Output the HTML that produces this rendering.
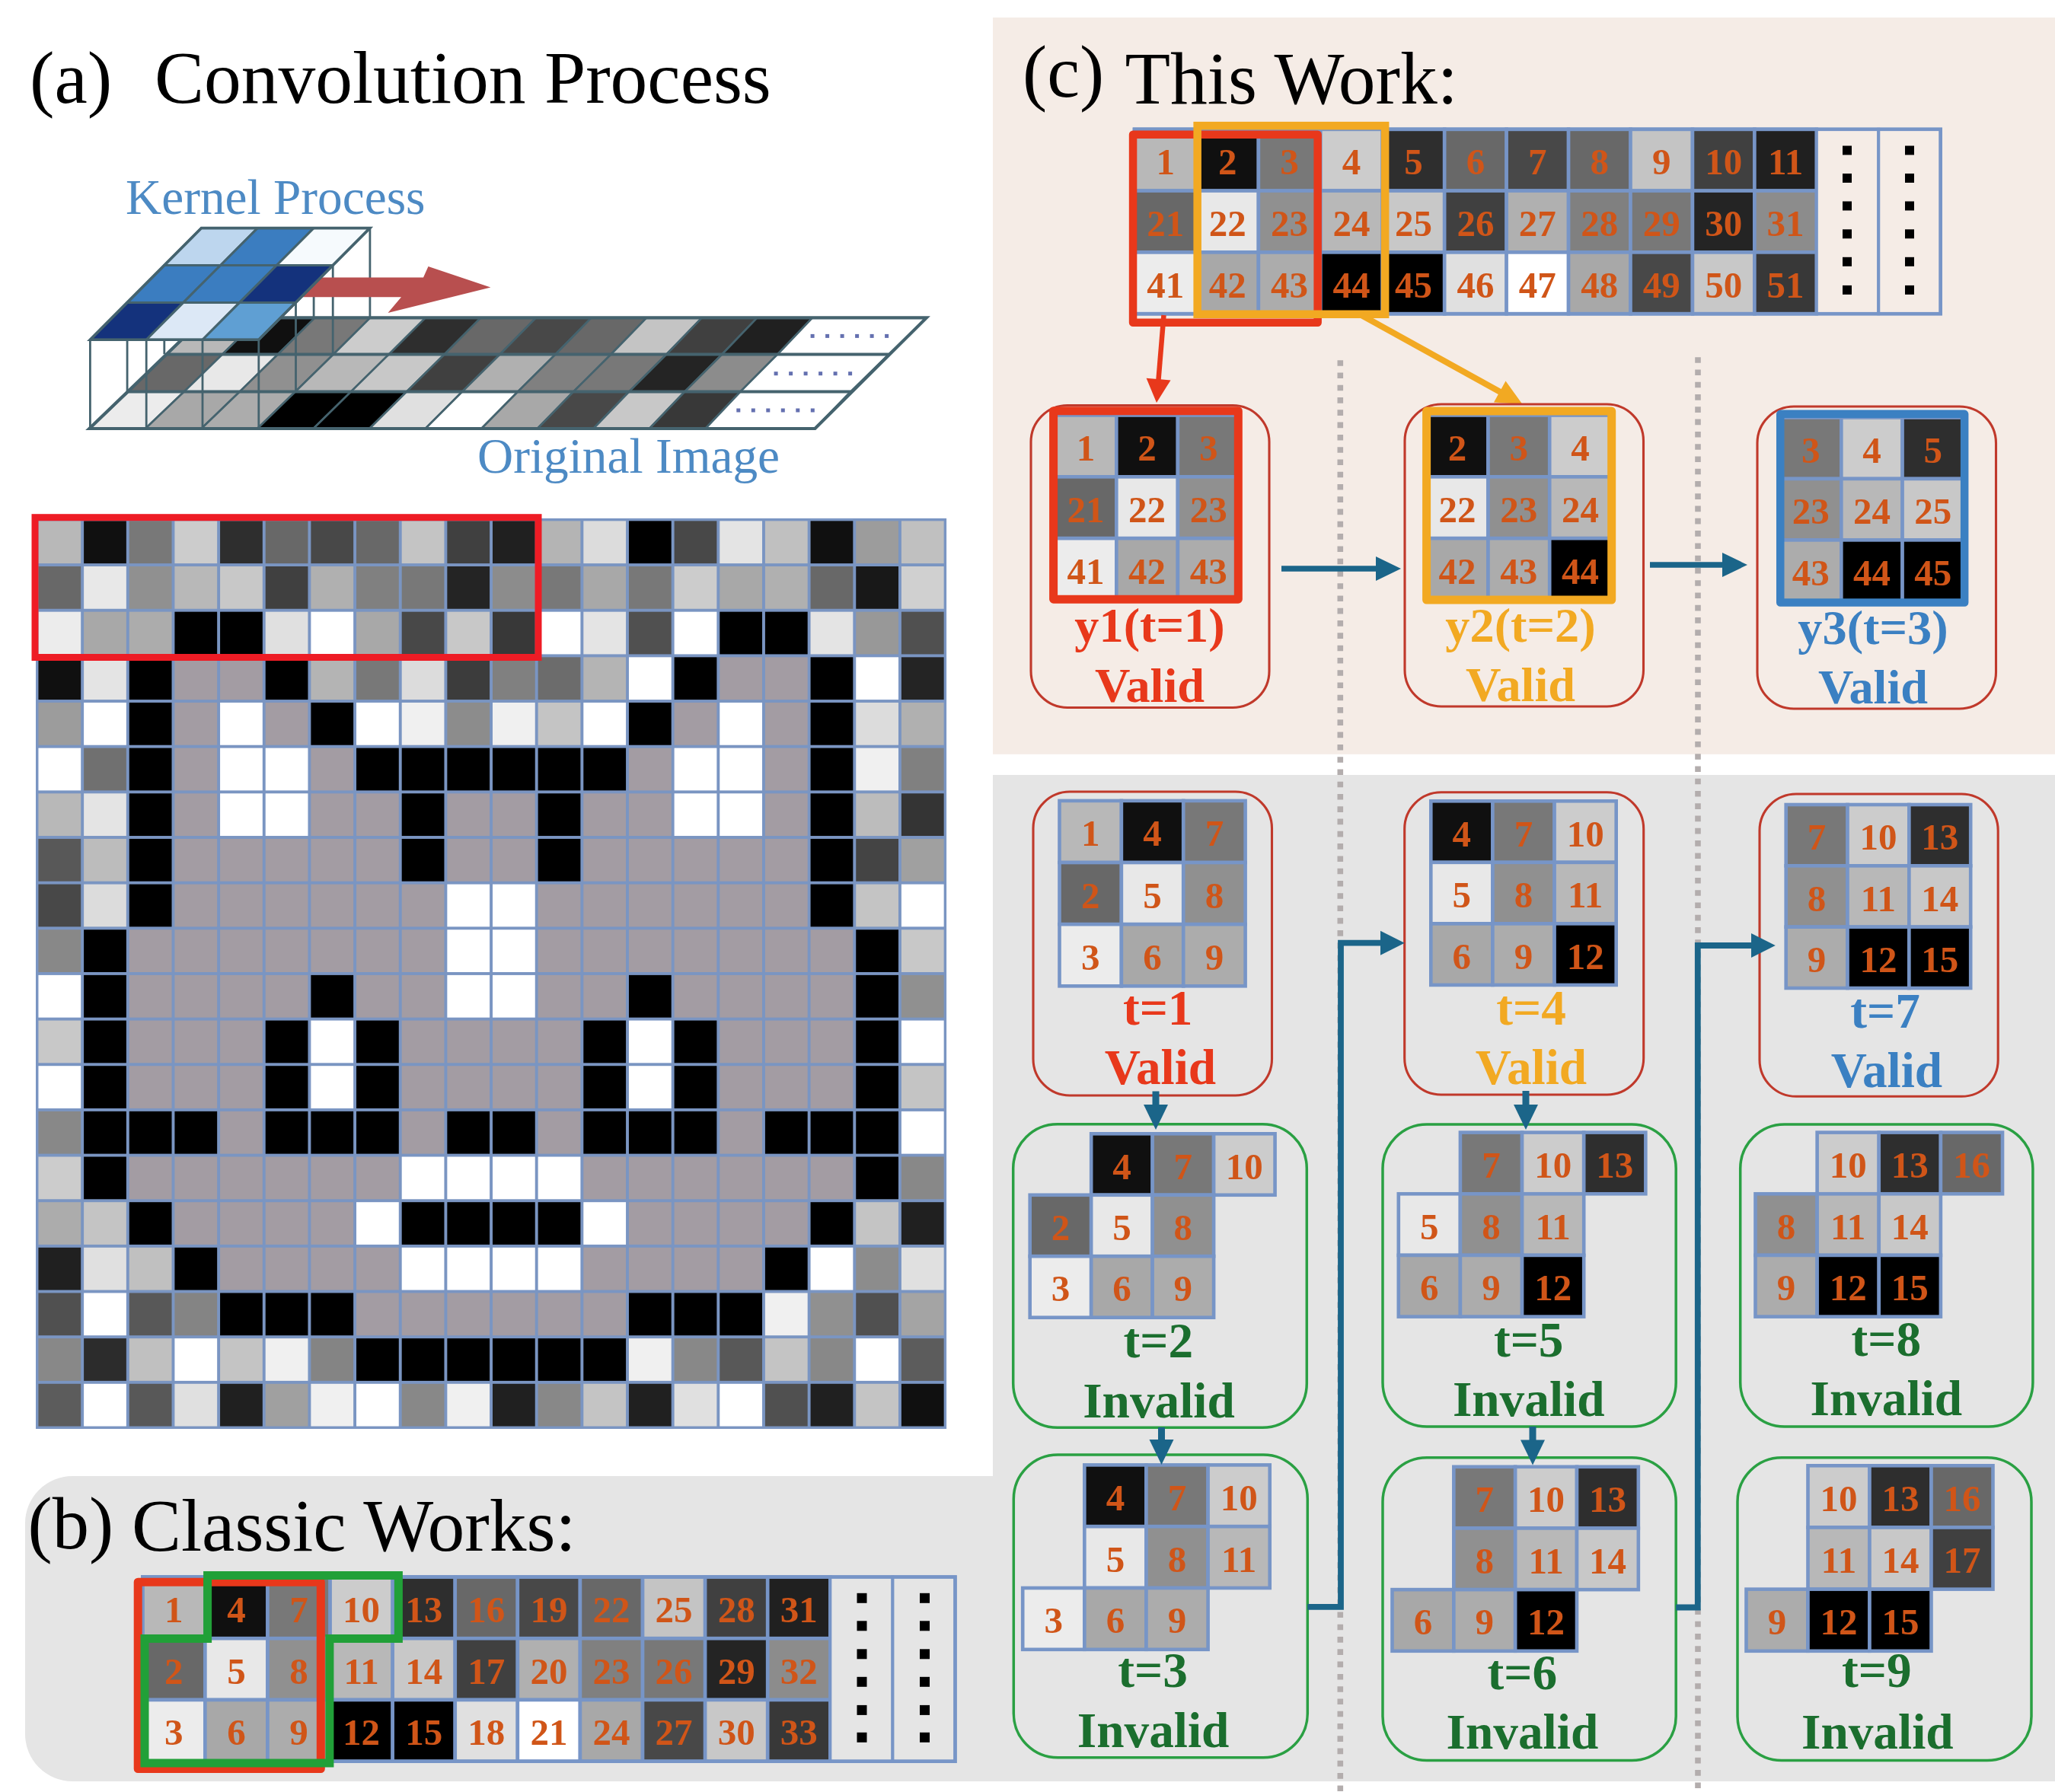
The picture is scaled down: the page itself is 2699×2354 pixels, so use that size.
<!DOCTYPE html>
<html lang="en">
<head>
<meta charset="utf-8">
<title>Convolution Process: Classic Works vs This Work</title>
<style>
html,body{margin:0;padding:0;background:#fff;}
body{width:2699px;height:2354px;overflow:hidden;}
svg{display:block;font-family:'Liberation Serif', 'Times New Roman', serif;}
</style>
</head>
<body>
<svg width="2699" height="2354" viewBox="0 0 2699 2354">
<rect x="0" y="0" width="2699" height="2354" fill="#ffffff"/>
<rect x="1304" y="23" width="1400" height="967.8" fill="#f5ece6"/>
<path d="M1304 1018 H2704 V2340 H95 A62 62 0 0 1 33 2278 V2001 A62 62 0 0 1 95 1939 H1304 Z" fill="#e5e5e5"/>
<text x="39" y="135.2" font-size="97.5" fill="#000" xml:space="preserve">(a)  <tspan x="203" y="135.2">Convolution Process</tspan></text>
<text x="1343" y="127" font-size="96.5" fill="#000">(c) <tspan x="1477.5" y="136.2" font-size="97.5">This Work:</tspan></text>
<text x="36.5" y="2033.5" font-size="96.5" fill="#000">(b) <tspan x="173" y="2036.6" font-size="97.5">Classic Works:</tspan></text>
<text x="165" y="280.5" font-size="65.3" fill="#4d8ac4" font-weight="normal" text-anchor="start">Kernel Process</text>
<text x="627" y="621" font-size="65.3" fill="#4d8ac4" font-weight="normal" text-anchor="start">Original Image</text>
<polygon points="117.4,563 190.95,563 241.76,514.5 168.7,514.5" fill="#ececec" stroke="#45636e" stroke-width="2.6" stroke-linejoin="round"/>
<polygon points="190.95,563 264.51,563 314.83,514.5 241.76,514.5" fill="#a8a8a8" stroke="#45636e" stroke-width="2.6" stroke-linejoin="round"/>
<polygon points="264.51,563 338.06,563 387.89,514.5 314.83,514.5" fill="#acacac" stroke="#45636e" stroke-width="2.6" stroke-linejoin="round"/>
<polygon points="338.06,563 411.62,563 460.95,514.5 387.89,514.5" fill="#000000" stroke="#45636e" stroke-width="2.6" stroke-linejoin="round"/>
<polygon points="411.62,563 485.17,563 534.02,514.5 460.95,514.5" fill="#000000" stroke="#45636e" stroke-width="2.6" stroke-linejoin="round"/>
<polygon points="485.17,563 558.73,563 607.08,514.5 534.02,514.5" fill="#e0e0e0" stroke="#45636e" stroke-width="2.6" stroke-linejoin="round"/>
<polygon points="558.73,563 632.28,563 680.15,514.5 607.08,514.5" fill="#ffffff" stroke="#45636e" stroke-width="2.6" stroke-linejoin="round"/>
<polygon points="632.28,563 705.84,563 753.21,514.5 680.15,514.5" fill="#a8a8a8" stroke="#45636e" stroke-width="2.6" stroke-linejoin="round"/>
<polygon points="705.84,563 779.39,563 826.27,514.5 753.21,514.5" fill="#484848" stroke="#45636e" stroke-width="2.6" stroke-linejoin="round"/>
<polygon points="779.39,563 852.95,563 899.34,514.5 826.27,514.5" fill="#c8c8c8" stroke="#45636e" stroke-width="2.6" stroke-linejoin="round"/>
<polygon points="852.95,563 926.5,563 972.4,514.5 899.34,514.5" fill="#383838" stroke="#45636e" stroke-width="2.6" stroke-linejoin="round"/>
<polygon points="926.5,563 1070.4,563 1117.1,514.5 972.4,514.5" fill="#ffffff" stroke="#45636e" stroke-width="2.6"/>
<polygon points="168.7,514.5 241.76,514.5 292.02,465.5 219.1,465.5" fill="#686868" stroke="#45636e" stroke-width="2.6" stroke-linejoin="round"/>
<polygon points="241.76,514.5 314.83,514.5 364.94,465.5 292.02,465.5" fill="#e8e8e8" stroke="#45636e" stroke-width="2.6" stroke-linejoin="round"/>
<polygon points="314.83,514.5 387.89,514.5 437.85,465.5 364.94,465.5" fill="#909090" stroke="#45636e" stroke-width="2.6" stroke-linejoin="round"/>
<polygon points="387.89,514.5 460.95,514.5 510.77,465.5 437.85,465.5" fill="#b8b8b8" stroke="#45636e" stroke-width="2.6" stroke-linejoin="round"/>
<polygon points="460.95,514.5 534.02,514.5 583.69,465.5 510.77,465.5" fill="#c8c8c8" stroke="#45636e" stroke-width="2.6" stroke-linejoin="round"/>
<polygon points="534.02,514.5 607.08,514.5 656.61,465.5 583.69,465.5" fill="#404040" stroke="#45636e" stroke-width="2.6" stroke-linejoin="round"/>
<polygon points="607.08,514.5 680.15,514.5 729.53,465.5 656.61,465.5" fill="#b0b0b0" stroke="#45636e" stroke-width="2.6" stroke-linejoin="round"/>
<polygon points="680.15,514.5 753.21,514.5 802.45,465.5 729.53,465.5" fill="#808080" stroke="#45636e" stroke-width="2.6" stroke-linejoin="round"/>
<polygon points="753.21,514.5 826.27,514.5 875.36,465.5 802.45,465.5" fill="#787878" stroke="#45636e" stroke-width="2.6" stroke-linejoin="round"/>
<polygon points="826.27,514.5 899.34,514.5 948.28,465.5 875.36,465.5" fill="#242424" stroke="#45636e" stroke-width="2.6" stroke-linejoin="round"/>
<polygon points="899.34,514.5 972.4,514.5 1021.2,465.5 948.28,465.5" fill="#8c8c8c" stroke="#45636e" stroke-width="2.6" stroke-linejoin="round"/>
<polygon points="972.4,514.5 1117.1,514.5 1167.2,465.5 1021.2,465.5" fill="#ffffff" stroke="#45636e" stroke-width="2.6"/>
<polygon points="219.1,465.5 292.02,465.5 341.1,417.4 268.5,417.4" fill="#b8b8b8" stroke="#45636e" stroke-width="2.6" stroke-linejoin="round"/>
<polygon points="292.02,465.5 364.94,465.5 413.7,417.4 341.1,417.4" fill="#101010" stroke="#45636e" stroke-width="2.6" stroke-linejoin="round"/>
<polygon points="364.94,465.5 437.85,465.5 486.3,417.4 413.7,417.4" fill="#787878" stroke="#45636e" stroke-width="2.6" stroke-linejoin="round"/>
<polygon points="437.85,465.5 510.77,465.5 558.9,417.4 486.3,417.4" fill="#cccccc" stroke="#45636e" stroke-width="2.6" stroke-linejoin="round"/>
<polygon points="510.77,465.5 583.69,465.5 631.5,417.4 558.9,417.4" fill="#2e2e2e" stroke="#45636e" stroke-width="2.6" stroke-linejoin="round"/>
<polygon points="583.69,465.5 656.61,465.5 704.1,417.4 631.5,417.4" fill="#686868" stroke="#45636e" stroke-width="2.6" stroke-linejoin="round"/>
<polygon points="656.61,465.5 729.53,465.5 776.7,417.4 704.1,417.4" fill="#484848" stroke="#45636e" stroke-width="2.6" stroke-linejoin="round"/>
<polygon points="729.53,465.5 802.45,465.5 849.3,417.4 776.7,417.4" fill="#686868" stroke="#45636e" stroke-width="2.6" stroke-linejoin="round"/>
<polygon points="802.45,465.5 875.36,465.5 921.9,417.4 849.3,417.4" fill="#c4c4c4" stroke="#45636e" stroke-width="2.6" stroke-linejoin="round"/>
<polygon points="875.36,465.5 948.28,465.5 994.5,417.4 921.9,417.4" fill="#404040" stroke="#45636e" stroke-width="2.6" stroke-linejoin="round"/>
<polygon points="948.28,465.5 1021.2,465.5 1067.1,417.4 994.5,417.4" fill="#202020" stroke="#45636e" stroke-width="2.6" stroke-linejoin="round"/>
<polygon points="1021.2,465.5 1167.2,465.5 1216.8,417.4 1067.1,417.4" fill="#ffffff" stroke="#45636e" stroke-width="2.6"/>
<polygon points="117.4,563 1070.4,563 1216.8,417.4 268.5,417.4" fill="none" stroke="#45636e" stroke-width="4.2" stroke-linejoin="miter"/>
<line x1="168.7" y1="514.5" x2="1117.1" y2="514.5" stroke="#45636e" stroke-width="4"/>
<line x1="219.1" y1="465.5" x2="1167.2" y2="465.5" stroke="#45636e" stroke-width="4"/>
<rect x="1064.6" y="438.9" width="5" height="5" fill="#6470b0"/>
<rect x="1084.1" y="438.9" width="5" height="5" fill="#6470b0"/>
<rect x="1103.6" y="438.9" width="5" height="5" fill="#6470b0"/>
<rect x="1123.1" y="438.9" width="5" height="5" fill="#6470b0"/>
<rect x="1142.6" y="438.9" width="5" height="5" fill="#6470b0"/>
<rect x="1162.1" y="438.9" width="5" height="5" fill="#6470b0"/>
<rect x="1016.6" y="488.2" width="5" height="5" fill="#6470b0"/>
<rect x="1036.1" y="488.2" width="5" height="5" fill="#6470b0"/>
<rect x="1055.6" y="488.2" width="5" height="5" fill="#6470b0"/>
<rect x="1075.1" y="488.2" width="5" height="5" fill="#6470b0"/>
<rect x="1094.6" y="488.2" width="5" height="5" fill="#6470b0"/>
<rect x="1114.1" y="488.2" width="5" height="5" fill="#6470b0"/>
<rect x="967.3" y="536.5" width="5" height="5" fill="#6470b0"/>
<rect x="986.8" y="536.5" width="5" height="5" fill="#6470b0"/>
<rect x="1006.3" y="536.5" width="5" height="5" fill="#6470b0"/>
<rect x="1025.8" y="536.5" width="5" height="5" fill="#6470b0"/>
<rect x="1045.3" y="536.5" width="5" height="5" fill="#6470b0"/>
<rect x="1064.8" y="536.5" width="5" height="5" fill="#6470b0"/>
<line x1="118.4" y1="446.3" x2="118.4" y2="563" stroke="#45636e" stroke-width="2.8"/>
<line x1="192.2" y1="446.3" x2="192.2" y2="563" stroke="#45636e" stroke-width="2.8"/>
<line x1="266" y1="446.3" x2="266" y2="563" stroke="#45636e" stroke-width="2.8"/>
<line x1="339.8" y1="446.3" x2="339.8" y2="563" stroke="#45636e" stroke-width="2.8"/>
<line x1="167.1" y1="397.4" x2="167.1" y2="514.1" stroke="#45636e" stroke-width="2.8"/>
<line x1="388.5" y1="397.4" x2="388.5" y2="514.1" stroke="#45636e" stroke-width="2.8"/>
<line x1="215.8" y1="348.5" x2="215.8" y2="465.2" stroke="#45636e" stroke-width="2.8"/>
<line x1="437.2" y1="348.5" x2="437.2" y2="465.2" stroke="#45636e" stroke-width="2.8"/>
<line x1="264.5" y1="299.6" x2="264.5" y2="416.3" stroke="#45636e" stroke-width="2.8"/>
<line x1="338.3" y1="299.6" x2="338.3" y2="416.3" stroke="#45636e" stroke-width="2.8"/>
<line x1="412.1" y1="299.6" x2="412.1" y2="416.3" stroke="#45636e" stroke-width="2.8"/>
<line x1="485.9" y1="299.6" x2="485.9" y2="416.3" stroke="#45636e" stroke-width="2.8"/>
<polygon points="418,364.5 556,364.5 562.5,350 644.4,377.4 509.5,411 527,390.2 397,390.2" fill="#b84f4f"/>
<polygon points="118.4,446.3 192.2,446.3 240.9,397.4 167.1,397.4" fill="#14327c" stroke="#45636e" stroke-width="3" stroke-linejoin="round"/>
<polygon points="192.2,446.3 266,446.3 314.7,397.4 240.9,397.4" fill="#dce8f6" stroke="#45636e" stroke-width="3" stroke-linejoin="round"/>
<polygon points="266,446.3 339.8,446.3 388.5,397.4 314.7,397.4" fill="#5f9fd3" stroke="#45636e" stroke-width="3" stroke-linejoin="round"/>
<polygon points="167.1,397.4 240.9,397.4 289.6,348.5 215.8,348.5" fill="#3b7dc0" stroke="#45636e" stroke-width="3" stroke-linejoin="round"/>
<polygon points="240.9,397.4 314.7,397.4 363.4,348.5 289.6,348.5" fill="#3b7dc0" stroke="#45636e" stroke-width="3" stroke-linejoin="round"/>
<polygon points="314.7,397.4 388.5,397.4 437.2,348.5 363.4,348.5" fill="#14327c" stroke="#45636e" stroke-width="3" stroke-linejoin="round"/>
<polygon points="215.8,348.5 289.6,348.5 338.3,299.6 264.5,299.6" fill="#bdd6ee" stroke="#45636e" stroke-width="3" stroke-linejoin="round"/>
<polygon points="289.6,348.5 363.4,348.5 412.1,299.6 338.3,299.6" fill="#3b7dc0" stroke="#45636e" stroke-width="3" stroke-linejoin="round"/>
<polygon points="363.4,348.5 437.2,348.5 485.9,299.6 412.1,299.6" fill="#f6fafd" stroke="#45636e" stroke-width="3" stroke-linejoin="round"/>
<polygon points="118.4,446.3 339.8,446.3 485.9,299.6 264.5,299.6" fill="none" stroke="#45636e" stroke-width="3.6"/>
<rect x="48.5" y="682.4" width="1193.1" height="1193.1" fill="#7a95c2"/>
<rect x="50.45" y="684.35" width="55.75" height="55.75" fill="#b8b8b8"/>
<rect x="110.11" y="684.35" width="55.75" height="55.75" fill="#101010"/>
<rect x="169.76" y="684.35" width="55.75" height="55.75" fill="#787878"/>
<rect x="229.41" y="684.35" width="55.75" height="55.75" fill="#cccccc"/>
<rect x="289.07" y="684.35" width="55.75" height="55.75" fill="#2e2e2e"/>
<rect x="348.72" y="684.35" width="55.75" height="55.75" fill="#686868"/>
<rect x="408.38" y="684.35" width="55.75" height="55.75" fill="#484848"/>
<rect x="468.03" y="684.35" width="55.75" height="55.75" fill="#686868"/>
<rect x="527.69" y="684.35" width="55.75" height="55.75" fill="#c4c4c4"/>
<rect x="587.35" y="684.35" width="55.75" height="55.75" fill="#404040"/>
<rect x="647" y="684.35" width="55.75" height="55.75" fill="#202020"/>
<rect x="706.65" y="684.35" width="55.75" height="55.75" fill="#b4b4b4"/>
<rect x="766.31" y="684.35" width="55.75" height="55.75" fill="#dcdcdc"/>
<rect x="825.96" y="684.35" width="55.75" height="55.75" fill="#000000"/>
<rect x="885.62" y="684.35" width="55.75" height="55.75" fill="#484848"/>
<rect x="945.27" y="684.35" width="55.75" height="55.75" fill="#e4e4e4"/>
<rect x="1004.93" y="684.35" width="55.75" height="55.75" fill="#c0c0c0"/>
<rect x="1064.58" y="684.35" width="55.75" height="55.75" fill="#101010"/>
<rect x="1124.24" y="684.35" width="55.75" height="55.75" fill="#9c9c9c"/>
<rect x="1183.89" y="684.35" width="55.75" height="55.75" fill="#c0c0c0"/>
<rect x="50.45" y="744" width="55.75" height="55.75" fill="#686868"/>
<rect x="110.11" y="744" width="55.75" height="55.75" fill="#e8e8e8"/>
<rect x="169.76" y="744" width="55.75" height="55.75" fill="#909090"/>
<rect x="229.41" y="744" width="55.75" height="55.75" fill="#b8b8b8"/>
<rect x="289.07" y="744" width="55.75" height="55.75" fill="#c8c8c8"/>
<rect x="348.72" y="744" width="55.75" height="55.75" fill="#404040"/>
<rect x="408.38" y="744" width="55.75" height="55.75" fill="#b0b0b0"/>
<rect x="468.03" y="744" width="55.75" height="55.75" fill="#808080"/>
<rect x="527.69" y="744" width="55.75" height="55.75" fill="#787878"/>
<rect x="587.35" y="744" width="55.75" height="55.75" fill="#242424"/>
<rect x="647" y="744" width="55.75" height="55.75" fill="#8c8c8c"/>
<rect x="706.65" y="744" width="55.75" height="55.75" fill="#787878"/>
<rect x="766.31" y="744" width="55.75" height="55.75" fill="#a8a8a8"/>
<rect x="825.96" y="744" width="55.75" height="55.75" fill="#787878"/>
<rect x="885.62" y="744" width="55.75" height="55.75" fill="#cccccc"/>
<rect x="945.27" y="744" width="55.75" height="55.75" fill="#a8a8a8"/>
<rect x="1004.93" y="744" width="55.75" height="55.75" fill="#b0b0b0"/>
<rect x="1064.58" y="744" width="55.75" height="55.75" fill="#686868"/>
<rect x="1124.24" y="744" width="55.75" height="55.75" fill="#181818"/>
<rect x="1183.89" y="744" width="55.75" height="55.75" fill="#d0d0d0"/>
<rect x="50.45" y="803.66" width="55.75" height="55.75" fill="#ececec"/>
<rect x="110.11" y="803.66" width="55.75" height="55.75" fill="#a8a8a8"/>
<rect x="169.76" y="803.66" width="55.75" height="55.75" fill="#acacac"/>
<rect x="229.41" y="803.66" width="55.75" height="55.75" fill="#000000"/>
<rect x="289.07" y="803.66" width="55.75" height="55.75" fill="#000000"/>
<rect x="348.72" y="803.66" width="55.75" height="55.75" fill="#e0e0e0"/>
<rect x="408.38" y="803.66" width="55.75" height="55.75" fill="#ffffff"/>
<rect x="468.03" y="803.66" width="55.75" height="55.75" fill="#a8a8a8"/>
<rect x="527.69" y="803.66" width="55.75" height="55.75" fill="#484848"/>
<rect x="587.35" y="803.66" width="55.75" height="55.75" fill="#c8c8c8"/>
<rect x="647" y="803.66" width="55.75" height="55.75" fill="#383838"/>
<rect x="706.65" y="803.66" width="55.75" height="55.75" fill="#ffffff"/>
<rect x="766.31" y="803.66" width="55.75" height="55.75" fill="#e4e4e4"/>
<rect x="825.96" y="803.66" width="55.75" height="55.75" fill="#505050"/>
<rect x="885.62" y="803.66" width="55.75" height="55.75" fill="#ffffff"/>
<rect x="945.27" y="803.66" width="55.75" height="55.75" fill="#000000"/>
<rect x="1004.93" y="803.66" width="55.75" height="55.75" fill="#000000"/>
<rect x="1064.58" y="803.66" width="55.75" height="55.75" fill="#e4e4e4"/>
<rect x="1124.24" y="803.66" width="55.75" height="55.75" fill="#989898"/>
<rect x="1183.89" y="803.66" width="55.75" height="55.75" fill="#505050"/>
<rect x="50.45" y="863.32" width="55.75" height="55.75" fill="#101010"/>
<rect x="110.11" y="863.32" width="55.75" height="55.75" fill="#e4e4e4"/>
<rect x="169.76" y="863.32" width="55.75" height="55.75" fill="#000000"/>
<rect x="229.41" y="863.32" width="55.75" height="55.75" fill="#a39ca3"/>
<rect x="289.07" y="863.32" width="55.75" height="55.75" fill="#a39ca3"/>
<rect x="348.72" y="863.32" width="55.75" height="55.75" fill="#000000"/>
<rect x="408.38" y="863.32" width="55.75" height="55.75" fill="#b4b4b4"/>
<rect x="468.03" y="863.32" width="55.75" height="55.75" fill="#787878"/>
<rect x="527.69" y="863.32" width="55.75" height="55.75" fill="#dcdcdc"/>
<rect x="587.35" y="863.32" width="55.75" height="55.75" fill="#3c3c3c"/>
<rect x="647" y="863.32" width="55.75" height="55.75" fill="#808080"/>
<rect x="706.65" y="863.32" width="55.75" height="55.75" fill="#6c6c6c"/>
<rect x="766.31" y="863.32" width="55.75" height="55.75" fill="#b4b4b4"/>
<rect x="825.96" y="863.32" width="55.75" height="55.75" fill="#ffffff"/>
<rect x="885.62" y="863.32" width="55.75" height="55.75" fill="#000000"/>
<rect x="945.27" y="863.32" width="55.75" height="55.75" fill="#a39ca3"/>
<rect x="1004.93" y="863.32" width="55.75" height="55.75" fill="#a39ca3"/>
<rect x="1064.58" y="863.32" width="55.75" height="55.75" fill="#000000"/>
<rect x="1124.24" y="863.32" width="55.75" height="55.75" fill="#ffffff"/>
<rect x="1183.89" y="863.32" width="55.75" height="55.75" fill="#242424"/>
<rect x="50.45" y="922.97" width="55.75" height="55.75" fill="#9c9c9c"/>
<rect x="110.11" y="922.97" width="55.75" height="55.75" fill="#ffffff"/>
<rect x="169.76" y="922.97" width="55.75" height="55.75" fill="#000000"/>
<rect x="229.41" y="922.97" width="55.75" height="55.75" fill="#a39ca3"/>
<rect x="289.07" y="922.97" width="55.75" height="55.75" fill="#ffffff"/>
<rect x="348.72" y="922.97" width="55.75" height="55.75" fill="#a39ca3"/>
<rect x="408.38" y="922.97" width="55.75" height="55.75" fill="#000000"/>
<rect x="468.03" y="922.97" width="55.75" height="55.75" fill="#ffffff"/>
<rect x="527.69" y="922.97" width="55.75" height="55.75" fill="#f0f0f0"/>
<rect x="587.35" y="922.97" width="55.75" height="55.75" fill="#8c8c8c"/>
<rect x="647" y="922.97" width="55.75" height="55.75" fill="#f0f0f0"/>
<rect x="706.65" y="922.97" width="55.75" height="55.75" fill="#c4c4c4"/>
<rect x="766.31" y="922.97" width="55.75" height="55.75" fill="#ffffff"/>
<rect x="825.96" y="922.97" width="55.75" height="55.75" fill="#000000"/>
<rect x="885.62" y="922.97" width="55.75" height="55.75" fill="#a39ca3"/>
<rect x="945.27" y="922.97" width="55.75" height="55.75" fill="#ffffff"/>
<rect x="1004.93" y="922.97" width="55.75" height="55.75" fill="#a39ca3"/>
<rect x="1064.58" y="922.97" width="55.75" height="55.75" fill="#000000"/>
<rect x="1124.24" y="922.97" width="55.75" height="55.75" fill="#dcdcdc"/>
<rect x="1183.89" y="922.97" width="55.75" height="55.75" fill="#b0b0b0"/>
<rect x="50.45" y="982.62" width="55.75" height="55.75" fill="#ffffff"/>
<rect x="110.11" y="982.62" width="55.75" height="55.75" fill="#707070"/>
<rect x="169.76" y="982.62" width="55.75" height="55.75" fill="#000000"/>
<rect x="229.41" y="982.62" width="55.75" height="55.75" fill="#a39ca3"/>
<rect x="289.07" y="982.62" width="55.75" height="55.75" fill="#ffffff"/>
<rect x="348.72" y="982.62" width="55.75" height="55.75" fill="#ffffff"/>
<rect x="408.38" y="982.62" width="55.75" height="55.75" fill="#a39ca3"/>
<rect x="468.03" y="982.62" width="55.75" height="55.75" fill="#000000"/>
<rect x="527.69" y="982.62" width="55.75" height="55.75" fill="#000000"/>
<rect x="587.35" y="982.62" width="55.75" height="55.75" fill="#000000"/>
<rect x="647" y="982.62" width="55.75" height="55.75" fill="#000000"/>
<rect x="706.65" y="982.62" width="55.75" height="55.75" fill="#000000"/>
<rect x="766.31" y="982.62" width="55.75" height="55.75" fill="#000000"/>
<rect x="825.96" y="982.62" width="55.75" height="55.75" fill="#a39ca3"/>
<rect x="885.62" y="982.62" width="55.75" height="55.75" fill="#ffffff"/>
<rect x="945.27" y="982.62" width="55.75" height="55.75" fill="#ffffff"/>
<rect x="1004.93" y="982.62" width="55.75" height="55.75" fill="#a39ca3"/>
<rect x="1064.58" y="982.62" width="55.75" height="55.75" fill="#000000"/>
<rect x="1124.24" y="982.62" width="55.75" height="55.75" fill="#f0f0f0"/>
<rect x="1183.89" y="982.62" width="55.75" height="55.75" fill="#808080"/>
<rect x="50.45" y="1042.28" width="55.75" height="55.75" fill="#b8b8b8"/>
<rect x="110.11" y="1042.28" width="55.75" height="55.75" fill="#e4e4e4"/>
<rect x="169.76" y="1042.28" width="55.75" height="55.75" fill="#000000"/>
<rect x="229.41" y="1042.28" width="55.75" height="55.75" fill="#a39ca3"/>
<rect x="289.07" y="1042.28" width="55.75" height="55.75" fill="#ffffff"/>
<rect x="348.72" y="1042.28" width="55.75" height="55.75" fill="#ffffff"/>
<rect x="408.38" y="1042.28" width="55.75" height="55.75" fill="#a39ca3"/>
<rect x="468.03" y="1042.28" width="55.75" height="55.75" fill="#a39ca3"/>
<rect x="527.69" y="1042.28" width="55.75" height="55.75" fill="#000000"/>
<rect x="587.35" y="1042.28" width="55.75" height="55.75" fill="#a39ca3"/>
<rect x="647" y="1042.28" width="55.75" height="55.75" fill="#a39ca3"/>
<rect x="706.65" y="1042.28" width="55.75" height="55.75" fill="#000000"/>
<rect x="766.31" y="1042.28" width="55.75" height="55.75" fill="#a39ca3"/>
<rect x="825.96" y="1042.28" width="55.75" height="55.75" fill="#a39ca3"/>
<rect x="885.62" y="1042.28" width="55.75" height="55.75" fill="#ffffff"/>
<rect x="945.27" y="1042.28" width="55.75" height="55.75" fill="#ffffff"/>
<rect x="1004.93" y="1042.28" width="55.75" height="55.75" fill="#a39ca3"/>
<rect x="1064.58" y="1042.28" width="55.75" height="55.75" fill="#000000"/>
<rect x="1124.24" y="1042.28" width="55.75" height="55.75" fill="#bcbcbc"/>
<rect x="1183.89" y="1042.28" width="55.75" height="55.75" fill="#343434"/>
<rect x="50.45" y="1101.93" width="55.75" height="55.75" fill="#585858"/>
<rect x="110.11" y="1101.93" width="55.75" height="55.75" fill="#bcbcbc"/>
<rect x="169.76" y="1101.93" width="55.75" height="55.75" fill="#000000"/>
<rect x="229.41" y="1101.93" width="55.75" height="55.75" fill="#a39ca3"/>
<rect x="289.07" y="1101.93" width="55.75" height="55.75" fill="#a39ca3"/>
<rect x="348.72" y="1101.93" width="55.75" height="55.75" fill="#a39ca3"/>
<rect x="408.38" y="1101.93" width="55.75" height="55.75" fill="#a39ca3"/>
<rect x="468.03" y="1101.93" width="55.75" height="55.75" fill="#a39ca3"/>
<rect x="527.69" y="1101.93" width="55.75" height="55.75" fill="#000000"/>
<rect x="587.35" y="1101.93" width="55.75" height="55.75" fill="#a39ca3"/>
<rect x="647" y="1101.93" width="55.75" height="55.75" fill="#a39ca3"/>
<rect x="706.65" y="1101.93" width="55.75" height="55.75" fill="#000000"/>
<rect x="766.31" y="1101.93" width="55.75" height="55.75" fill="#a39ca3"/>
<rect x="825.96" y="1101.93" width="55.75" height="55.75" fill="#a39ca3"/>
<rect x="885.62" y="1101.93" width="55.75" height="55.75" fill="#a39ca3"/>
<rect x="945.27" y="1101.93" width="55.75" height="55.75" fill="#a39ca3"/>
<rect x="1004.93" y="1101.93" width="55.75" height="55.75" fill="#a39ca3"/>
<rect x="1064.58" y="1101.93" width="55.75" height="55.75" fill="#000000"/>
<rect x="1124.24" y="1101.93" width="55.75" height="55.75" fill="#444444"/>
<rect x="1183.89" y="1101.93" width="55.75" height="55.75" fill="#a0a0a0"/>
<rect x="50.45" y="1161.59" width="55.75" height="55.75" fill="#484848"/>
<rect x="110.11" y="1161.59" width="55.75" height="55.75" fill="#dcdcdc"/>
<rect x="169.76" y="1161.59" width="55.75" height="55.75" fill="#000000"/>
<rect x="229.41" y="1161.59" width="55.75" height="55.75" fill="#a39ca3"/>
<rect x="289.07" y="1161.59" width="55.75" height="55.75" fill="#a39ca3"/>
<rect x="348.72" y="1161.59" width="55.75" height="55.75" fill="#a39ca3"/>
<rect x="408.38" y="1161.59" width="55.75" height="55.75" fill="#a39ca3"/>
<rect x="468.03" y="1161.59" width="55.75" height="55.75" fill="#a39ca3"/>
<rect x="527.69" y="1161.59" width="55.75" height="55.75" fill="#a39ca3"/>
<rect x="587.35" y="1161.59" width="55.75" height="55.75" fill="#ffffff"/>
<rect x="647" y="1161.59" width="55.75" height="55.75" fill="#ffffff"/>
<rect x="706.65" y="1161.59" width="55.75" height="55.75" fill="#a39ca3"/>
<rect x="766.31" y="1161.59" width="55.75" height="55.75" fill="#a39ca3"/>
<rect x="825.96" y="1161.59" width="55.75" height="55.75" fill="#a39ca3"/>
<rect x="885.62" y="1161.59" width="55.75" height="55.75" fill="#a39ca3"/>
<rect x="945.27" y="1161.59" width="55.75" height="55.75" fill="#a39ca3"/>
<rect x="1004.93" y="1161.59" width="55.75" height="55.75" fill="#a39ca3"/>
<rect x="1064.58" y="1161.59" width="55.75" height="55.75" fill="#000000"/>
<rect x="1124.24" y="1161.59" width="55.75" height="55.75" fill="#c4c4c4"/>
<rect x="1183.89" y="1161.59" width="55.75" height="55.75" fill="#ffffff"/>
<rect x="50.45" y="1221.25" width="55.75" height="55.75" fill="#888888"/>
<rect x="110.11" y="1221.25" width="55.75" height="55.75" fill="#000000"/>
<rect x="169.76" y="1221.25" width="55.75" height="55.75" fill="#a39ca3"/>
<rect x="229.41" y="1221.25" width="55.75" height="55.75" fill="#a39ca3"/>
<rect x="289.07" y="1221.25" width="55.75" height="55.75" fill="#a39ca3"/>
<rect x="348.72" y="1221.25" width="55.75" height="55.75" fill="#a39ca3"/>
<rect x="408.38" y="1221.25" width="55.75" height="55.75" fill="#a39ca3"/>
<rect x="468.03" y="1221.25" width="55.75" height="55.75" fill="#a39ca3"/>
<rect x="527.69" y="1221.25" width="55.75" height="55.75" fill="#a39ca3"/>
<rect x="587.35" y="1221.25" width="55.75" height="55.75" fill="#ffffff"/>
<rect x="647" y="1221.25" width="55.75" height="55.75" fill="#ffffff"/>
<rect x="706.65" y="1221.25" width="55.75" height="55.75" fill="#a39ca3"/>
<rect x="766.31" y="1221.25" width="55.75" height="55.75" fill="#a39ca3"/>
<rect x="825.96" y="1221.25" width="55.75" height="55.75" fill="#a39ca3"/>
<rect x="885.62" y="1221.25" width="55.75" height="55.75" fill="#a39ca3"/>
<rect x="945.27" y="1221.25" width="55.75" height="55.75" fill="#a39ca3"/>
<rect x="1004.93" y="1221.25" width="55.75" height="55.75" fill="#a39ca3"/>
<rect x="1064.58" y="1221.25" width="55.75" height="55.75" fill="#a39ca3"/>
<rect x="1124.24" y="1221.25" width="55.75" height="55.75" fill="#000000"/>
<rect x="1183.89" y="1221.25" width="55.75" height="55.75" fill="#c8c8c8"/>
<rect x="50.45" y="1280.9" width="55.75" height="55.75" fill="#ffffff"/>
<rect x="110.11" y="1280.9" width="55.75" height="55.75" fill="#000000"/>
<rect x="169.76" y="1280.9" width="55.75" height="55.75" fill="#a39ca3"/>
<rect x="229.41" y="1280.9" width="55.75" height="55.75" fill="#a39ca3"/>
<rect x="289.07" y="1280.9" width="55.75" height="55.75" fill="#a39ca3"/>
<rect x="348.72" y="1280.9" width="55.75" height="55.75" fill="#a39ca3"/>
<rect x="408.38" y="1280.9" width="55.75" height="55.75" fill="#000000"/>
<rect x="468.03" y="1280.9" width="55.75" height="55.75" fill="#a39ca3"/>
<rect x="527.69" y="1280.9" width="55.75" height="55.75" fill="#a39ca3"/>
<rect x="587.35" y="1280.9" width="55.75" height="55.75" fill="#ffffff"/>
<rect x="647" y="1280.9" width="55.75" height="55.75" fill="#ffffff"/>
<rect x="706.65" y="1280.9" width="55.75" height="55.75" fill="#a39ca3"/>
<rect x="766.31" y="1280.9" width="55.75" height="55.75" fill="#a39ca3"/>
<rect x="825.96" y="1280.9" width="55.75" height="55.75" fill="#000000"/>
<rect x="885.62" y="1280.9" width="55.75" height="55.75" fill="#a39ca3"/>
<rect x="945.27" y="1280.9" width="55.75" height="55.75" fill="#a39ca3"/>
<rect x="1004.93" y="1280.9" width="55.75" height="55.75" fill="#a39ca3"/>
<rect x="1064.58" y="1280.9" width="55.75" height="55.75" fill="#a39ca3"/>
<rect x="1124.24" y="1280.9" width="55.75" height="55.75" fill="#000000"/>
<rect x="1183.89" y="1280.9" width="55.75" height="55.75" fill="#909090"/>
<rect x="50.45" y="1340.56" width="55.75" height="55.75" fill="#c8c8c8"/>
<rect x="110.11" y="1340.56" width="55.75" height="55.75" fill="#000000"/>
<rect x="169.76" y="1340.56" width="55.75" height="55.75" fill="#a39ca3"/>
<rect x="229.41" y="1340.56" width="55.75" height="55.75" fill="#a39ca3"/>
<rect x="289.07" y="1340.56" width="55.75" height="55.75" fill="#a39ca3"/>
<rect x="348.72" y="1340.56" width="55.75" height="55.75" fill="#000000"/>
<rect x="408.38" y="1340.56" width="55.75" height="55.75" fill="#ffffff"/>
<rect x="468.03" y="1340.56" width="55.75" height="55.75" fill="#000000"/>
<rect x="527.69" y="1340.56" width="55.75" height="55.75" fill="#a39ca3"/>
<rect x="587.35" y="1340.56" width="55.75" height="55.75" fill="#a39ca3"/>
<rect x="647" y="1340.56" width="55.75" height="55.75" fill="#a39ca3"/>
<rect x="706.65" y="1340.56" width="55.75" height="55.75" fill="#a39ca3"/>
<rect x="766.31" y="1340.56" width="55.75" height="55.75" fill="#000000"/>
<rect x="825.96" y="1340.56" width="55.75" height="55.75" fill="#ffffff"/>
<rect x="885.62" y="1340.56" width="55.75" height="55.75" fill="#000000"/>
<rect x="945.27" y="1340.56" width="55.75" height="55.75" fill="#a39ca3"/>
<rect x="1004.93" y="1340.56" width="55.75" height="55.75" fill="#a39ca3"/>
<rect x="1064.58" y="1340.56" width="55.75" height="55.75" fill="#a39ca3"/>
<rect x="1124.24" y="1340.56" width="55.75" height="55.75" fill="#000000"/>
<rect x="1183.89" y="1340.56" width="55.75" height="55.75" fill="#ffffff"/>
<rect x="50.45" y="1400.21" width="55.75" height="55.75" fill="#ffffff"/>
<rect x="110.11" y="1400.21" width="55.75" height="55.75" fill="#000000"/>
<rect x="169.76" y="1400.21" width="55.75" height="55.75" fill="#a39ca3"/>
<rect x="229.41" y="1400.21" width="55.75" height="55.75" fill="#a39ca3"/>
<rect x="289.07" y="1400.21" width="55.75" height="55.75" fill="#a39ca3"/>
<rect x="348.72" y="1400.21" width="55.75" height="55.75" fill="#000000"/>
<rect x="408.38" y="1400.21" width="55.75" height="55.75" fill="#ffffff"/>
<rect x="468.03" y="1400.21" width="55.75" height="55.75" fill="#000000"/>
<rect x="527.69" y="1400.21" width="55.75" height="55.75" fill="#a39ca3"/>
<rect x="587.35" y="1400.21" width="55.75" height="55.75" fill="#a39ca3"/>
<rect x="647" y="1400.21" width="55.75" height="55.75" fill="#a39ca3"/>
<rect x="706.65" y="1400.21" width="55.75" height="55.75" fill="#a39ca3"/>
<rect x="766.31" y="1400.21" width="55.75" height="55.75" fill="#000000"/>
<rect x="825.96" y="1400.21" width="55.75" height="55.75" fill="#ffffff"/>
<rect x="885.62" y="1400.21" width="55.75" height="55.75" fill="#000000"/>
<rect x="945.27" y="1400.21" width="55.75" height="55.75" fill="#a39ca3"/>
<rect x="1004.93" y="1400.21" width="55.75" height="55.75" fill="#a39ca3"/>
<rect x="1064.58" y="1400.21" width="55.75" height="55.75" fill="#a39ca3"/>
<rect x="1124.24" y="1400.21" width="55.75" height="55.75" fill="#000000"/>
<rect x="1183.89" y="1400.21" width="55.75" height="55.75" fill="#c4c4c4"/>
<rect x="50.45" y="1459.87" width="55.75" height="55.75" fill="#888888"/>
<rect x="110.11" y="1459.87" width="55.75" height="55.75" fill="#000000"/>
<rect x="169.76" y="1459.87" width="55.75" height="55.75" fill="#000000"/>
<rect x="229.41" y="1459.87" width="55.75" height="55.75" fill="#000000"/>
<rect x="289.07" y="1459.87" width="55.75" height="55.75" fill="#a39ca3"/>
<rect x="348.72" y="1459.87" width="55.75" height="55.75" fill="#000000"/>
<rect x="408.38" y="1459.87" width="55.75" height="55.75" fill="#000000"/>
<rect x="468.03" y="1459.87" width="55.75" height="55.75" fill="#000000"/>
<rect x="527.69" y="1459.87" width="55.75" height="55.75" fill="#a39ca3"/>
<rect x="587.35" y="1459.87" width="55.75" height="55.75" fill="#000000"/>
<rect x="647" y="1459.87" width="55.75" height="55.75" fill="#000000"/>
<rect x="706.65" y="1459.87" width="55.75" height="55.75" fill="#a39ca3"/>
<rect x="766.31" y="1459.87" width="55.75" height="55.75" fill="#000000"/>
<rect x="825.96" y="1459.87" width="55.75" height="55.75" fill="#000000"/>
<rect x="885.62" y="1459.87" width="55.75" height="55.75" fill="#000000"/>
<rect x="945.27" y="1459.87" width="55.75" height="55.75" fill="#a39ca3"/>
<rect x="1004.93" y="1459.87" width="55.75" height="55.75" fill="#000000"/>
<rect x="1064.58" y="1459.87" width="55.75" height="55.75" fill="#000000"/>
<rect x="1124.24" y="1459.87" width="55.75" height="55.75" fill="#000000"/>
<rect x="1183.89" y="1459.87" width="55.75" height="55.75" fill="#ffffff"/>
<rect x="50.45" y="1519.52" width="55.75" height="55.75" fill="#cccccc"/>
<rect x="110.11" y="1519.52" width="55.75" height="55.75" fill="#000000"/>
<rect x="169.76" y="1519.52" width="55.75" height="55.75" fill="#a39ca3"/>
<rect x="229.41" y="1519.52" width="55.75" height="55.75" fill="#a39ca3"/>
<rect x="289.07" y="1519.52" width="55.75" height="55.75" fill="#a39ca3"/>
<rect x="348.72" y="1519.52" width="55.75" height="55.75" fill="#a39ca3"/>
<rect x="408.38" y="1519.52" width="55.75" height="55.75" fill="#a39ca3"/>
<rect x="468.03" y="1519.52" width="55.75" height="55.75" fill="#a39ca3"/>
<rect x="527.69" y="1519.52" width="55.75" height="55.75" fill="#ffffff"/>
<rect x="587.35" y="1519.52" width="55.75" height="55.75" fill="#ffffff"/>
<rect x="647" y="1519.52" width="55.75" height="55.75" fill="#ffffff"/>
<rect x="706.65" y="1519.52" width="55.75" height="55.75" fill="#ffffff"/>
<rect x="766.31" y="1519.52" width="55.75" height="55.75" fill="#a39ca3"/>
<rect x="825.96" y="1519.52" width="55.75" height="55.75" fill="#a39ca3"/>
<rect x="885.62" y="1519.52" width="55.75" height="55.75" fill="#a39ca3"/>
<rect x="945.27" y="1519.52" width="55.75" height="55.75" fill="#a39ca3"/>
<rect x="1004.93" y="1519.52" width="55.75" height="55.75" fill="#a39ca3"/>
<rect x="1064.58" y="1519.52" width="55.75" height="55.75" fill="#a39ca3"/>
<rect x="1124.24" y="1519.52" width="55.75" height="55.75" fill="#000000"/>
<rect x="1183.89" y="1519.52" width="55.75" height="55.75" fill="#888888"/>
<rect x="50.45" y="1579.17" width="55.75" height="55.75" fill="#acacac"/>
<rect x="110.11" y="1579.17" width="55.75" height="55.75" fill="#c4c4c4"/>
<rect x="169.76" y="1579.17" width="55.75" height="55.75" fill="#000000"/>
<rect x="229.41" y="1579.17" width="55.75" height="55.75" fill="#a39ca3"/>
<rect x="289.07" y="1579.17" width="55.75" height="55.75" fill="#a39ca3"/>
<rect x="348.72" y="1579.17" width="55.75" height="55.75" fill="#a39ca3"/>
<rect x="408.38" y="1579.17" width="55.75" height="55.75" fill="#a39ca3"/>
<rect x="468.03" y="1579.17" width="55.75" height="55.75" fill="#ffffff"/>
<rect x="527.69" y="1579.17" width="55.75" height="55.75" fill="#000000"/>
<rect x="587.35" y="1579.17" width="55.75" height="55.75" fill="#000000"/>
<rect x="647" y="1579.17" width="55.75" height="55.75" fill="#000000"/>
<rect x="706.65" y="1579.17" width="55.75" height="55.75" fill="#000000"/>
<rect x="766.31" y="1579.17" width="55.75" height="55.75" fill="#ffffff"/>
<rect x="825.96" y="1579.17" width="55.75" height="55.75" fill="#a39ca3"/>
<rect x="885.62" y="1579.17" width="55.75" height="55.75" fill="#a39ca3"/>
<rect x="945.27" y="1579.17" width="55.75" height="55.75" fill="#a39ca3"/>
<rect x="1004.93" y="1579.17" width="55.75" height="55.75" fill="#a39ca3"/>
<rect x="1064.58" y="1579.17" width="55.75" height="55.75" fill="#000000"/>
<rect x="1124.24" y="1579.17" width="55.75" height="55.75" fill="#c4c4c4"/>
<rect x="1183.89" y="1579.17" width="55.75" height="55.75" fill="#202020"/>
<rect x="50.45" y="1638.83" width="55.75" height="55.75" fill="#202020"/>
<rect x="110.11" y="1638.83" width="55.75" height="55.75" fill="#e0e0e0"/>
<rect x="169.76" y="1638.83" width="55.75" height="55.75" fill="#c0c0c0"/>
<rect x="229.41" y="1638.83" width="55.75" height="55.75" fill="#000000"/>
<rect x="289.07" y="1638.83" width="55.75" height="55.75" fill="#a39ca3"/>
<rect x="348.72" y="1638.83" width="55.75" height="55.75" fill="#a39ca3"/>
<rect x="408.38" y="1638.83" width="55.75" height="55.75" fill="#a39ca3"/>
<rect x="468.03" y="1638.83" width="55.75" height="55.75" fill="#a39ca3"/>
<rect x="527.69" y="1638.83" width="55.75" height="55.75" fill="#ffffff"/>
<rect x="587.35" y="1638.83" width="55.75" height="55.75" fill="#ffffff"/>
<rect x="647" y="1638.83" width="55.75" height="55.75" fill="#ffffff"/>
<rect x="706.65" y="1638.83" width="55.75" height="55.75" fill="#ffffff"/>
<rect x="766.31" y="1638.83" width="55.75" height="55.75" fill="#a39ca3"/>
<rect x="825.96" y="1638.83" width="55.75" height="55.75" fill="#a39ca3"/>
<rect x="885.62" y="1638.83" width="55.75" height="55.75" fill="#a39ca3"/>
<rect x="945.27" y="1638.83" width="55.75" height="55.75" fill="#a39ca3"/>
<rect x="1004.93" y="1638.83" width="55.75" height="55.75" fill="#000000"/>
<rect x="1064.58" y="1638.83" width="55.75" height="55.75" fill="#ffffff"/>
<rect x="1124.24" y="1638.83" width="55.75" height="55.75" fill="#8c8c8c"/>
<rect x="1183.89" y="1638.83" width="55.75" height="55.75" fill="#e0e0e0"/>
<rect x="50.45" y="1698.48" width="55.75" height="55.75" fill="#505050"/>
<rect x="110.11" y="1698.48" width="55.75" height="55.75" fill="#ffffff"/>
<rect x="169.76" y="1698.48" width="55.75" height="55.75" fill="#585858"/>
<rect x="229.41" y="1698.48" width="55.75" height="55.75" fill="#848484"/>
<rect x="289.07" y="1698.48" width="55.75" height="55.75" fill="#000000"/>
<rect x="348.72" y="1698.48" width="55.75" height="55.75" fill="#000000"/>
<rect x="408.38" y="1698.48" width="55.75" height="55.75" fill="#000000"/>
<rect x="468.03" y="1698.48" width="55.75" height="55.75" fill="#a39ca3"/>
<rect x="527.69" y="1698.48" width="55.75" height="55.75" fill="#a39ca3"/>
<rect x="587.35" y="1698.48" width="55.75" height="55.75" fill="#a39ca3"/>
<rect x="647" y="1698.48" width="55.75" height="55.75" fill="#a39ca3"/>
<rect x="706.65" y="1698.48" width="55.75" height="55.75" fill="#a39ca3"/>
<rect x="766.31" y="1698.48" width="55.75" height="55.75" fill="#a39ca3"/>
<rect x="825.96" y="1698.48" width="55.75" height="55.75" fill="#000000"/>
<rect x="885.62" y="1698.48" width="55.75" height="55.75" fill="#000000"/>
<rect x="945.27" y="1698.48" width="55.75" height="55.75" fill="#000000"/>
<rect x="1004.93" y="1698.48" width="55.75" height="55.75" fill="#f0f0f0"/>
<rect x="1064.58" y="1698.48" width="55.75" height="55.75" fill="#909090"/>
<rect x="1124.24" y="1698.48" width="55.75" height="55.75" fill="#505050"/>
<rect x="1183.89" y="1698.48" width="55.75" height="55.75" fill="#a4a4a4"/>
<rect x="50.45" y="1758.14" width="55.75" height="55.75" fill="#888888"/>
<rect x="110.11" y="1758.14" width="55.75" height="55.75" fill="#2c2c2c"/>
<rect x="169.76" y="1758.14" width="55.75" height="55.75" fill="#c0c0c0"/>
<rect x="229.41" y="1758.14" width="55.75" height="55.75" fill="#ffffff"/>
<rect x="289.07" y="1758.14" width="55.75" height="55.75" fill="#c4c4c4"/>
<rect x="348.72" y="1758.14" width="55.75" height="55.75" fill="#f0f0f0"/>
<rect x="408.38" y="1758.14" width="55.75" height="55.75" fill="#848484"/>
<rect x="468.03" y="1758.14" width="55.75" height="55.75" fill="#000000"/>
<rect x="527.69" y="1758.14" width="55.75" height="55.75" fill="#000000"/>
<rect x="587.35" y="1758.14" width="55.75" height="55.75" fill="#000000"/>
<rect x="647" y="1758.14" width="55.75" height="55.75" fill="#000000"/>
<rect x="706.65" y="1758.14" width="55.75" height="55.75" fill="#000000"/>
<rect x="766.31" y="1758.14" width="55.75" height="55.75" fill="#000000"/>
<rect x="825.96" y="1758.14" width="55.75" height="55.75" fill="#f0f0f0"/>
<rect x="885.62" y="1758.14" width="55.75" height="55.75" fill="#888888"/>
<rect x="945.27" y="1758.14" width="55.75" height="55.75" fill="#585858"/>
<rect x="1004.93" y="1758.14" width="55.75" height="55.75" fill="#c4c4c4"/>
<rect x="1064.58" y="1758.14" width="55.75" height="55.75" fill="#888888"/>
<rect x="1124.24" y="1758.14" width="55.75" height="55.75" fill="#ffffff"/>
<rect x="1183.89" y="1758.14" width="55.75" height="55.75" fill="#5c5c5c"/>
<rect x="50.45" y="1817.79" width="55.75" height="55.75" fill="#5c5c5c"/>
<rect x="110.11" y="1817.79" width="55.75" height="55.75" fill="#ffffff"/>
<rect x="169.76" y="1817.79" width="55.75" height="55.75" fill="#585858"/>
<rect x="229.41" y="1817.79" width="55.75" height="55.75" fill="#e0e0e0"/>
<rect x="289.07" y="1817.79" width="55.75" height="55.75" fill="#202020"/>
<rect x="348.72" y="1817.79" width="55.75" height="55.75" fill="#a0a0a0"/>
<rect x="408.38" y="1817.79" width="55.75" height="55.75" fill="#f0f0f0"/>
<rect x="468.03" y="1817.79" width="55.75" height="55.75" fill="#ffffff"/>
<rect x="527.69" y="1817.79" width="55.75" height="55.75" fill="#888888"/>
<rect x="587.35" y="1817.79" width="55.75" height="55.75" fill="#f0f0f0"/>
<rect x="647" y="1817.79" width="55.75" height="55.75" fill="#202020"/>
<rect x="706.65" y="1817.79" width="55.75" height="55.75" fill="#888888"/>
<rect x="766.31" y="1817.79" width="55.75" height="55.75" fill="#c4c4c4"/>
<rect x="825.96" y="1817.79" width="55.75" height="55.75" fill="#202020"/>
<rect x="885.62" y="1817.79" width="55.75" height="55.75" fill="#e0e0e0"/>
<rect x="945.27" y="1817.79" width="55.75" height="55.75" fill="#ffffff"/>
<rect x="1004.93" y="1817.79" width="55.75" height="55.75" fill="#505050"/>
<rect x="1064.58" y="1817.79" width="55.75" height="55.75" fill="#202020"/>
<rect x="1124.24" y="1817.79" width="55.75" height="55.75" fill="#c4c4c4"/>
<rect x="1183.89" y="1817.79" width="55.75" height="55.75" fill="#101010"/>
<rect x="48.5" y="682.4" width="1193.1" height="1193.1" fill="none" stroke="#7a95c2" stroke-width="3"/>
<rect x="46" y="679.7" width="661" height="183.8" fill="none" stroke="#ee1c25" stroke-width="9"/>
<rect x="1490" y="169.8" width="81.44" height="80.8" fill="#b8b8b8" stroke="#7795c7" stroke-width="4.6"/>
<text x="1530.72" y="229.2" font-size="49" fill="#d05518" font-weight="bold" text-anchor="middle">1</text>
<rect x="1571.44" y="169.8" width="81.44" height="80.8" fill="#101010" stroke="#7795c7" stroke-width="4.6"/>
<text x="1612.16" y="229.2" font-size="49" fill="#d05518" font-weight="bold" text-anchor="middle">2</text>
<rect x="1652.88" y="169.8" width="81.44" height="80.8" fill="#787878" stroke="#7795c7" stroke-width="4.6"/>
<text x="1693.6" y="229.2" font-size="49" fill="#d05518" font-weight="bold" text-anchor="middle">3</text>
<rect x="1734.32" y="169.8" width="81.44" height="80.8" fill="#cccccc" stroke="#7795c7" stroke-width="4.6"/>
<text x="1775.03" y="229.2" font-size="49" fill="#d05518" font-weight="bold" text-anchor="middle">4</text>
<rect x="1815.75" y="169.8" width="81.44" height="80.8" fill="#2e2e2e" stroke="#7795c7" stroke-width="4.6"/>
<text x="1856.47" y="229.2" font-size="49" fill="#d05518" font-weight="bold" text-anchor="middle">5</text>
<rect x="1897.19" y="169.8" width="81.44" height="80.8" fill="#686868" stroke="#7795c7" stroke-width="4.6"/>
<text x="1937.91" y="229.2" font-size="49" fill="#d05518" font-weight="bold" text-anchor="middle">6</text>
<rect x="1978.63" y="169.8" width="81.44" height="80.8" fill="#484848" stroke="#7795c7" stroke-width="4.6"/>
<text x="2019.35" y="229.2" font-size="49" fill="#d05518" font-weight="bold" text-anchor="middle">7</text>
<rect x="2060.07" y="169.8" width="81.44" height="80.8" fill="#686868" stroke="#7795c7" stroke-width="4.6"/>
<text x="2100.79" y="229.2" font-size="49" fill="#d05518" font-weight="bold" text-anchor="middle">8</text>
<rect x="2141.51" y="169.8" width="81.44" height="80.8" fill="#c4c4c4" stroke="#7795c7" stroke-width="4.6"/>
<text x="2182.23" y="229.2" font-size="49" fill="#d05518" font-weight="bold" text-anchor="middle">9</text>
<rect x="2222.95" y="169.8" width="81.44" height="80.8" fill="#404040" stroke="#7795c7" stroke-width="4.6"/>
<text x="2263.67" y="229.2" font-size="49" fill="#d05518" font-weight="bold" text-anchor="middle">10</text>
<rect x="2304.38" y="169.8" width="81.44" height="80.8" fill="#202020" stroke="#7795c7" stroke-width="4.6"/>
<text x="2345.1" y="229.2" font-size="49" fill="#d05518" font-weight="bold" text-anchor="middle">11</text>
<rect x="1490" y="250.6" width="81.44" height="80.8" fill="#686868" stroke="#7795c7" stroke-width="4.6"/>
<text x="1530.72" y="310" font-size="49" fill="#d05518" font-weight="bold" text-anchor="middle">21</text>
<rect x="1571.44" y="250.6" width="81.44" height="80.8" fill="#e8e8e8" stroke="#7795c7" stroke-width="4.6"/>
<text x="1612.16" y="310" font-size="49" fill="#d05518" font-weight="bold" text-anchor="middle">22</text>
<rect x="1652.88" y="250.6" width="81.44" height="80.8" fill="#909090" stroke="#7795c7" stroke-width="4.6"/>
<text x="1693.6" y="310" font-size="49" fill="#d05518" font-weight="bold" text-anchor="middle">23</text>
<rect x="1734.32" y="250.6" width="81.44" height="80.8" fill="#b8b8b8" stroke="#7795c7" stroke-width="4.6"/>
<text x="1775.03" y="310" font-size="49" fill="#d05518" font-weight="bold" text-anchor="middle">24</text>
<rect x="1815.75" y="250.6" width="81.44" height="80.8" fill="#c8c8c8" stroke="#7795c7" stroke-width="4.6"/>
<text x="1856.47" y="310" font-size="49" fill="#d05518" font-weight="bold" text-anchor="middle">25</text>
<rect x="1897.19" y="250.6" width="81.44" height="80.8" fill="#404040" stroke="#7795c7" stroke-width="4.6"/>
<text x="1937.91" y="310" font-size="49" fill="#d05518" font-weight="bold" text-anchor="middle">26</text>
<rect x="1978.63" y="250.6" width="81.44" height="80.8" fill="#b0b0b0" stroke="#7795c7" stroke-width="4.6"/>
<text x="2019.35" y="310" font-size="49" fill="#d05518" font-weight="bold" text-anchor="middle">27</text>
<rect x="2060.07" y="250.6" width="81.44" height="80.8" fill="#808080" stroke="#7795c7" stroke-width="4.6"/>
<text x="2100.79" y="310" font-size="49" fill="#d05518" font-weight="bold" text-anchor="middle">28</text>
<rect x="2141.51" y="250.6" width="81.44" height="80.8" fill="#787878" stroke="#7795c7" stroke-width="4.6"/>
<text x="2182.23" y="310" font-size="49" fill="#d05518" font-weight="bold" text-anchor="middle">29</text>
<rect x="2222.95" y="250.6" width="81.44" height="80.8" fill="#242424" stroke="#7795c7" stroke-width="4.6"/>
<text x="2263.67" y="310" font-size="49" fill="#d05518" font-weight="bold" text-anchor="middle">30</text>
<rect x="2304.38" y="250.6" width="81.44" height="80.8" fill="#8c8c8c" stroke="#7795c7" stroke-width="4.6"/>
<text x="2345.1" y="310" font-size="49" fill="#d05518" font-weight="bold" text-anchor="middle">31</text>
<rect x="1490" y="331.4" width="81.44" height="80.8" fill="#ececec" stroke="#7795c7" stroke-width="4.6"/>
<text x="1530.72" y="390.8" font-size="49" fill="#d05518" font-weight="bold" text-anchor="middle">41</text>
<rect x="1571.44" y="331.4" width="81.44" height="80.8" fill="#a8a8a8" stroke="#7795c7" stroke-width="4.6"/>
<text x="1612.16" y="390.8" font-size="49" fill="#d05518" font-weight="bold" text-anchor="middle">42</text>
<rect x="1652.88" y="331.4" width="81.44" height="80.8" fill="#acacac" stroke="#7795c7" stroke-width="4.6"/>
<text x="1693.6" y="390.8" font-size="49" fill="#d05518" font-weight="bold" text-anchor="middle">43</text>
<rect x="1734.32" y="331.4" width="81.44" height="80.8" fill="#000000" stroke="#7795c7" stroke-width="4.6"/>
<text x="1775.03" y="390.8" font-size="49" fill="#d05518" font-weight="bold" text-anchor="middle">44</text>
<rect x="1815.75" y="331.4" width="81.44" height="80.8" fill="#000000" stroke="#7795c7" stroke-width="4.6"/>
<text x="1856.47" y="390.8" font-size="49" fill="#d05518" font-weight="bold" text-anchor="middle">45</text>
<rect x="1897.19" y="331.4" width="81.44" height="80.8" fill="#e0e0e0" stroke="#7795c7" stroke-width="4.6"/>
<text x="1937.91" y="390.8" font-size="49" fill="#d05518" font-weight="bold" text-anchor="middle">46</text>
<rect x="1978.63" y="331.4" width="81.44" height="80.8" fill="#ffffff" stroke="#7795c7" stroke-width="4.6"/>
<text x="2019.35" y="390.8" font-size="49" fill="#d05518" font-weight="bold" text-anchor="middle">47</text>
<rect x="2060.07" y="331.4" width="81.44" height="80.8" fill="#a8a8a8" stroke="#7795c7" stroke-width="4.6"/>
<text x="2100.79" y="390.8" font-size="49" fill="#d05518" font-weight="bold" text-anchor="middle">48</text>
<rect x="2141.51" y="331.4" width="81.44" height="80.8" fill="#484848" stroke="#7795c7" stroke-width="4.6"/>
<text x="2182.23" y="390.8" font-size="49" fill="#d05518" font-weight="bold" text-anchor="middle">49</text>
<rect x="2222.95" y="331.4" width="81.44" height="80.8" fill="#c8c8c8" stroke="#7795c7" stroke-width="4.6"/>
<text x="2263.67" y="390.8" font-size="49" fill="#d05518" font-weight="bold" text-anchor="middle">50</text>
<rect x="2304.38" y="331.4" width="81.44" height="80.8" fill="#383838" stroke="#7795c7" stroke-width="4.6"/>
<text x="2345.1" y="390.8" font-size="49" fill="#d05518" font-weight="bold" text-anchor="middle">51</text>
<rect x="2385.82" y="169.8" width="81.44" height="242.4" fill="#f5ece6" stroke="#7795c7" stroke-width="4"/>
<rect x="2467.26" y="169.8" width="81.44" height="242.4" fill="#f5ece6" stroke="#7795c7" stroke-width="4"/>
<rect x="1490" y="169.8" width="1058.7" height="242.4" fill="none" stroke="#7795c7" stroke-width="4.6"/>
<rect x="2420" y="191.5" width="12" height="12" fill="#000"/>
<rect x="2420" y="228" width="12" height="12" fill="#000"/>
<rect x="2420" y="264.5" width="12" height="12" fill="#000"/>
<rect x="2420" y="301.3" width="12" height="12" fill="#000"/>
<rect x="2420" y="337.8" width="12" height="12" fill="#000"/>
<rect x="2420" y="374.9" width="12" height="12" fill="#000"/>
<rect x="2502" y="191.5" width="12" height="12" fill="#000"/>
<rect x="2502" y="228" width="12" height="12" fill="#000"/>
<rect x="2502" y="264.5" width="12" height="12" fill="#000"/>
<rect x="2502" y="301.3" width="12" height="12" fill="#000"/>
<rect x="2502" y="337.8" width="12" height="12" fill="#000"/>
<rect x="2502" y="374.9" width="12" height="12" fill="#000"/>
<rect x="1488.05" y="176.75" width="242.6" height="247" fill="none" stroke="#e8381b" stroke-width="10.5" stroke-linejoin="round"/>
<rect x="1572.65" y="165.15" width="246.5" height="247.6" fill="none" stroke="#f2a922" stroke-width="10.5"/>
<rect x="187.3" y="2071.5" width="82.09" height="80.73" fill="#b8b8b8" stroke="#7795c7" stroke-width="4.6"/>
<text x="228.35" y="2130.87" font-size="49" fill="#d05518" font-weight="bold" text-anchor="middle">1</text>
<rect x="269.39" y="2071.5" width="82.09" height="80.73" fill="#101010" stroke="#7795c7" stroke-width="4.6"/>
<text x="310.44" y="2130.87" font-size="49" fill="#d05518" font-weight="bold" text-anchor="middle">4</text>
<rect x="351.48" y="2071.5" width="82.09" height="80.73" fill="#787878" stroke="#7795c7" stroke-width="4.6"/>
<text x="392.53" y="2130.87" font-size="49" fill="#d05518" font-weight="bold" text-anchor="middle">7</text>
<rect x="433.58" y="2071.5" width="82.09" height="80.73" fill="#cccccc" stroke="#7795c7" stroke-width="4.6"/>
<text x="474.62" y="2130.87" font-size="49" fill="#d05518" font-weight="bold" text-anchor="middle">10</text>
<rect x="515.67" y="2071.5" width="82.09" height="80.73" fill="#2e2e2e" stroke="#7795c7" stroke-width="4.6"/>
<text x="556.72" y="2130.87" font-size="49" fill="#d05518" font-weight="bold" text-anchor="middle">13</text>
<rect x="597.76" y="2071.5" width="82.09" height="80.73" fill="#686868" stroke="#7795c7" stroke-width="4.6"/>
<text x="638.81" y="2130.87" font-size="49" fill="#d05518" font-weight="bold" text-anchor="middle">16</text>
<rect x="679.85" y="2071.5" width="82.09" height="80.73" fill="#484848" stroke="#7795c7" stroke-width="4.6"/>
<text x="720.9" y="2130.87" font-size="49" fill="#d05518" font-weight="bold" text-anchor="middle">19</text>
<rect x="761.95" y="2071.5" width="82.09" height="80.73" fill="#686868" stroke="#7795c7" stroke-width="4.6"/>
<text x="802.99" y="2130.87" font-size="49" fill="#d05518" font-weight="bold" text-anchor="middle">22</text>
<rect x="844.04" y="2071.5" width="82.09" height="80.73" fill="#c4c4c4" stroke="#7795c7" stroke-width="4.6"/>
<text x="885.08" y="2130.87" font-size="49" fill="#d05518" font-weight="bold" text-anchor="middle">25</text>
<rect x="926.13" y="2071.5" width="82.09" height="80.73" fill="#404040" stroke="#7795c7" stroke-width="4.6"/>
<text x="967.18" y="2130.87" font-size="49" fill="#d05518" font-weight="bold" text-anchor="middle">28</text>
<rect x="1008.22" y="2071.5" width="82.09" height="80.73" fill="#202020" stroke="#7795c7" stroke-width="4.6"/>
<text x="1049.27" y="2130.87" font-size="49" fill="#d05518" font-weight="bold" text-anchor="middle">31</text>
<rect x="187.3" y="2152.23" width="82.09" height="80.73" fill="#686868" stroke="#7795c7" stroke-width="4.6"/>
<text x="228.35" y="2211.6" font-size="49" fill="#d05518" font-weight="bold" text-anchor="middle">2</text>
<rect x="269.39" y="2152.23" width="82.09" height="80.73" fill="#e8e8e8" stroke="#7795c7" stroke-width="4.6"/>
<text x="310.44" y="2211.6" font-size="49" fill="#d05518" font-weight="bold" text-anchor="middle">5</text>
<rect x="351.48" y="2152.23" width="82.09" height="80.73" fill="#909090" stroke="#7795c7" stroke-width="4.6"/>
<text x="392.53" y="2211.6" font-size="49" fill="#d05518" font-weight="bold" text-anchor="middle">8</text>
<rect x="433.58" y="2152.23" width="82.09" height="80.73" fill="#b8b8b8" stroke="#7795c7" stroke-width="4.6"/>
<text x="474.62" y="2211.6" font-size="49" fill="#d05518" font-weight="bold" text-anchor="middle">11</text>
<rect x="515.67" y="2152.23" width="82.09" height="80.73" fill="#c8c8c8" stroke="#7795c7" stroke-width="4.6"/>
<text x="556.72" y="2211.6" font-size="49" fill="#d05518" font-weight="bold" text-anchor="middle">14</text>
<rect x="597.76" y="2152.23" width="82.09" height="80.73" fill="#404040" stroke="#7795c7" stroke-width="4.6"/>
<text x="638.81" y="2211.6" font-size="49" fill="#d05518" font-weight="bold" text-anchor="middle">17</text>
<rect x="679.85" y="2152.23" width="82.09" height="80.73" fill="#b0b0b0" stroke="#7795c7" stroke-width="4.6"/>
<text x="720.9" y="2211.6" font-size="49" fill="#d05518" font-weight="bold" text-anchor="middle">20</text>
<rect x="761.95" y="2152.23" width="82.09" height="80.73" fill="#808080" stroke="#7795c7" stroke-width="4.6"/>
<text x="802.99" y="2211.6" font-size="49" fill="#d05518" font-weight="bold" text-anchor="middle">23</text>
<rect x="844.04" y="2152.23" width="82.09" height="80.73" fill="#787878" stroke="#7795c7" stroke-width="4.6"/>
<text x="885.08" y="2211.6" font-size="49" fill="#d05518" font-weight="bold" text-anchor="middle">26</text>
<rect x="926.13" y="2152.23" width="82.09" height="80.73" fill="#242424" stroke="#7795c7" stroke-width="4.6"/>
<text x="967.18" y="2211.6" font-size="49" fill="#d05518" font-weight="bold" text-anchor="middle">29</text>
<rect x="1008.22" y="2152.23" width="82.09" height="80.73" fill="#8c8c8c" stroke="#7795c7" stroke-width="4.6"/>
<text x="1049.27" y="2211.6" font-size="49" fill="#d05518" font-weight="bold" text-anchor="middle">32</text>
<rect x="187.3" y="2232.97" width="82.09" height="80.73" fill="#ececec" stroke="#7795c7" stroke-width="4.6"/>
<text x="228.35" y="2292.33" font-size="49" fill="#d05518" font-weight="bold" text-anchor="middle">3</text>
<rect x="269.39" y="2232.97" width="82.09" height="80.73" fill="#a8a8a8" stroke="#7795c7" stroke-width="4.6"/>
<text x="310.44" y="2292.33" font-size="49" fill="#d05518" font-weight="bold" text-anchor="middle">6</text>
<rect x="351.48" y="2232.97" width="82.09" height="80.73" fill="#acacac" stroke="#7795c7" stroke-width="4.6"/>
<text x="392.53" y="2292.33" font-size="49" fill="#d05518" font-weight="bold" text-anchor="middle">9</text>
<rect x="433.58" y="2232.97" width="82.09" height="80.73" fill="#000000" stroke="#7795c7" stroke-width="4.6"/>
<text x="474.62" y="2292.33" font-size="49" fill="#d05518" font-weight="bold" text-anchor="middle">12</text>
<rect x="515.67" y="2232.97" width="82.09" height="80.73" fill="#000000" stroke="#7795c7" stroke-width="4.6"/>
<text x="556.72" y="2292.33" font-size="49" fill="#d05518" font-weight="bold" text-anchor="middle">15</text>
<rect x="597.76" y="2232.97" width="82.09" height="80.73" fill="#e0e0e0" stroke="#7795c7" stroke-width="4.6"/>
<text x="638.81" y="2292.33" font-size="49" fill="#d05518" font-weight="bold" text-anchor="middle">18</text>
<rect x="679.85" y="2232.97" width="82.09" height="80.73" fill="#ffffff" stroke="#7795c7" stroke-width="4.6"/>
<text x="720.9" y="2292.33" font-size="49" fill="#d05518" font-weight="bold" text-anchor="middle">21</text>
<rect x="761.95" y="2232.97" width="82.09" height="80.73" fill="#a8a8a8" stroke="#7795c7" stroke-width="4.6"/>
<text x="802.99" y="2292.33" font-size="49" fill="#d05518" font-weight="bold" text-anchor="middle">24</text>
<rect x="844.04" y="2232.97" width="82.09" height="80.73" fill="#484848" stroke="#7795c7" stroke-width="4.6"/>
<text x="885.08" y="2292.33" font-size="49" fill="#d05518" font-weight="bold" text-anchor="middle">27</text>
<rect x="926.13" y="2232.97" width="82.09" height="80.73" fill="#c8c8c8" stroke="#7795c7" stroke-width="4.6"/>
<text x="967.18" y="2292.33" font-size="49" fill="#d05518" font-weight="bold" text-anchor="middle">30</text>
<rect x="1008.22" y="2232.97" width="82.09" height="80.73" fill="#383838" stroke="#7795c7" stroke-width="4.6"/>
<text x="1049.27" y="2292.33" font-size="49" fill="#d05518" font-weight="bold" text-anchor="middle">33</text>
<rect x="1090.32" y="2071.5" width="82.09" height="242.2" fill="#e5e5e5" stroke="#7795c7" stroke-width="4"/>
<rect x="1172.41" y="2071.5" width="82.09" height="242.2" fill="#e5e5e5" stroke="#7795c7" stroke-width="4"/>
<rect x="187.3" y="2071.5" width="1067.2" height="242.2" fill="none" stroke="#7795c7" stroke-width="4.6"/>
<rect x="1125.5" y="2092.8" width="13" height="13" fill="#000"/>
<rect x="1125.5" y="2129.3" width="13" height="13" fill="#000"/>
<rect x="1125.5" y="2166.3" width="13" height="13" fill="#000"/>
<rect x="1125.5" y="2202.8" width="13" height="13" fill="#000"/>
<rect x="1125.5" y="2239.9" width="13" height="13" fill="#000"/>
<rect x="1125.5" y="2275.8" width="13" height="13" fill="#000"/>
<rect x="1208" y="2092.8" width="13" height="13" fill="#000"/>
<rect x="1208" y="2129.3" width="13" height="13" fill="#000"/>
<rect x="1208" y="2166.3" width="13" height="13" fill="#000"/>
<rect x="1208" y="2202.8" width="13" height="13" fill="#000"/>
<rect x="1208" y="2239.9" width="13" height="13" fill="#000"/>
<rect x="1208" y="2275.8" width="13" height="13" fill="#000"/>
<rect x="181.2" y="2078.2" width="240.1" height="245.3" fill="none" stroke="#e8381b" stroke-width="11" stroke-linejoin="round"/>
<polygon points="272.6,2069.5 523.4,2069.5 523.4,2152.4 432.9,2152.4 432.9,2315.9 190,2315.9 190,2152.4 272.6,2152.4" fill="none" stroke="#21a038" stroke-width="11" stroke-linejoin="miter"/>
<line x1="1760.3" y1="473.2" x2="1760.3" y2="2354" stroke="#b3adad" stroke-width="7.6" stroke-dasharray="7.6 8.68"/>
<line x1="2230" y1="469.2" x2="2230" y2="2354" stroke="#b3adad" stroke-width="7.6" stroke-dasharray="7.6 8.68"/>
<line x1="1528.5" y1="414" x2="1521.39" y2="500.1" stroke="#e8381b" stroke-width="6.5"/>
<polygon points="1519,529 1505.61,496.79 1537.5,499.42" fill="#e8381b"/>
<line x1="1788" y1="414" x2="1971.5" y2="515.51" stroke="#f2a922" stroke-width="8"/>
<polygon points="1999.5,531 1962,528.54 1977.49,500.54" fill="#f2a922"/>
<line x1="1683" y1="747" x2="1809" y2="747" stroke="#1b6589" stroke-width="7.5"/>
<polygon points="1840,747 1807,731 1807,763" fill="#1b6589"/>
<line x1="2167" y1="742" x2="2264" y2="742" stroke="#1b6589" stroke-width="7.5"/>
<polygon points="2295,742 2262,726 2262,758" fill="#1b6589"/>
<rect x="1354" y="532.5" width="313" height="397" fill="none" stroke="#c0392b" stroke-width="3.1" rx="48"/>
<rect x="1385.7" y="545.5" width="80.6" height="80.83" fill="#b8b8b8" stroke="#7795c7" stroke-width="4.6"/>
<text x="1426" y="604.92" font-size="49" fill="#d05518" font-weight="bold" text-anchor="middle">1</text>
<rect x="1466.3" y="545.5" width="80.6" height="80.83" fill="#101010" stroke="#7795c7" stroke-width="4.6"/>
<text x="1506.6" y="604.92" font-size="49" fill="#d05518" font-weight="bold" text-anchor="middle">2</text>
<rect x="1546.9" y="545.5" width="80.6" height="80.83" fill="#787878" stroke="#7795c7" stroke-width="4.6"/>
<text x="1587.2" y="604.92" font-size="49" fill="#d05518" font-weight="bold" text-anchor="middle">3</text>
<rect x="1385.7" y="626.33" width="80.6" height="80.83" fill="#686868" stroke="#7795c7" stroke-width="4.6"/>
<text x="1426" y="685.75" font-size="49" fill="#d05518" font-weight="bold" text-anchor="middle">21</text>
<rect x="1466.3" y="626.33" width="80.6" height="80.83" fill="#e8e8e8" stroke="#7795c7" stroke-width="4.6"/>
<text x="1506.6" y="685.75" font-size="49" fill="#d05518" font-weight="bold" text-anchor="middle">22</text>
<rect x="1546.9" y="626.33" width="80.6" height="80.83" fill="#909090" stroke="#7795c7" stroke-width="4.6"/>
<text x="1587.2" y="685.75" font-size="49" fill="#d05518" font-weight="bold" text-anchor="middle">23</text>
<rect x="1385.7" y="707.17" width="80.6" height="80.83" fill="#ececec" stroke="#7795c7" stroke-width="4.6"/>
<text x="1426" y="766.58" font-size="49" fill="#d05518" font-weight="bold" text-anchor="middle">41</text>
<rect x="1466.3" y="707.17" width="80.6" height="80.83" fill="#a8a8a8" stroke="#7795c7" stroke-width="4.6"/>
<text x="1506.6" y="766.58" font-size="49" fill="#d05518" font-weight="bold" text-anchor="middle">42</text>
<rect x="1546.9" y="707.17" width="80.6" height="80.83" fill="#acacac" stroke="#7795c7" stroke-width="4.6"/>
<text x="1587.2" y="766.58" font-size="49" fill="#d05518" font-weight="bold" text-anchor="middle">43</text>
<rect x="1383.6" y="539.7" width="242.7" height="247.5" fill="none" stroke="#e8381b" stroke-width="11" stroke-linejoin="round"/>
<text x="1510" y="843" font-size="64.3" fill="#e8381b" font-weight="bold" text-anchor="middle">y1(t=1)</text>
<text x="1510" y="922" font-size="64.3" fill="#e8381b" font-weight="bold" text-anchor="middle">Valid</text>
<rect x="1845" y="531" width="313.5" height="397" fill="none" stroke="#c0392b" stroke-width="3.1" rx="48"/>
<rect x="1873.7" y="545.5" width="80.77" height="80.83" fill="#101010" stroke="#7795c7" stroke-width="4.6"/>
<text x="1914.08" y="604.92" font-size="49" fill="#d05518" font-weight="bold" text-anchor="middle">2</text>
<rect x="1954.47" y="545.5" width="80.77" height="80.83" fill="#787878" stroke="#7795c7" stroke-width="4.6"/>
<text x="1994.85" y="604.92" font-size="49" fill="#d05518" font-weight="bold" text-anchor="middle">3</text>
<rect x="2035.23" y="545.5" width="80.77" height="80.83" fill="#cccccc" stroke="#7795c7" stroke-width="4.6"/>
<text x="2075.62" y="604.92" font-size="49" fill="#d05518" font-weight="bold" text-anchor="middle">4</text>
<rect x="1873.7" y="626.33" width="80.77" height="80.83" fill="#e8e8e8" stroke="#7795c7" stroke-width="4.6"/>
<text x="1914.08" y="685.75" font-size="49" fill="#d05518" font-weight="bold" text-anchor="middle">22</text>
<rect x="1954.47" y="626.33" width="80.77" height="80.83" fill="#909090" stroke="#7795c7" stroke-width="4.6"/>
<text x="1994.85" y="685.75" font-size="49" fill="#d05518" font-weight="bold" text-anchor="middle">23</text>
<rect x="2035.23" y="626.33" width="80.77" height="80.83" fill="#b8b8b8" stroke="#7795c7" stroke-width="4.6"/>
<text x="2075.62" y="685.75" font-size="49" fill="#d05518" font-weight="bold" text-anchor="middle">24</text>
<rect x="1873.7" y="707.17" width="80.77" height="80.83" fill="#a8a8a8" stroke="#7795c7" stroke-width="4.6"/>
<text x="1914.08" y="766.58" font-size="49" fill="#d05518" font-weight="bold" text-anchor="middle">42</text>
<rect x="1954.47" y="707.17" width="80.77" height="80.83" fill="#acacac" stroke="#7795c7" stroke-width="4.6"/>
<text x="1994.85" y="766.58" font-size="49" fill="#d05518" font-weight="bold" text-anchor="middle">43</text>
<rect x="2035.23" y="707.17" width="80.77" height="80.83" fill="#000000" stroke="#7795c7" stroke-width="4.6"/>
<text x="2075.62" y="766.58" font-size="49" fill="#d05518" font-weight="bold" text-anchor="middle">44</text>
<rect x="1873.6" y="540.1" width="243.1" height="247.9" fill="none" stroke="#f2a922" stroke-width="11" stroke-linejoin="round"/>
<text x="1997" y="843" font-size="64.3" fill="#f2a922" font-weight="bold" text-anchor="middle">y2(t=2)</text>
<text x="1997" y="921" font-size="64.3" fill="#f2a922" font-weight="bold" text-anchor="middle">Valid</text>
<rect x="2308" y="534" width="313.5" height="397" fill="none" stroke="#c0392b" stroke-width="3.1" rx="48"/>
<rect x="2338.1" y="548.5" width="80.23" height="80.43" fill="#787878" stroke="#7795c7" stroke-width="4.6"/>
<text x="2378.22" y="607.72" font-size="49" fill="#d05518" font-weight="bold" text-anchor="middle">3</text>
<rect x="2418.33" y="548.5" width="80.23" height="80.43" fill="#cccccc" stroke="#7795c7" stroke-width="4.6"/>
<text x="2458.45" y="607.72" font-size="49" fill="#d05518" font-weight="bold" text-anchor="middle">4</text>
<rect x="2498.57" y="548.5" width="80.23" height="80.43" fill="#2e2e2e" stroke="#7795c7" stroke-width="4.6"/>
<text x="2538.68" y="607.72" font-size="49" fill="#d05518" font-weight="bold" text-anchor="middle">5</text>
<rect x="2338.1" y="628.93" width="80.23" height="80.43" fill="#909090" stroke="#7795c7" stroke-width="4.6"/>
<text x="2378.22" y="688.15" font-size="49" fill="#d05518" font-weight="bold" text-anchor="middle">23</text>
<rect x="2418.33" y="628.93" width="80.23" height="80.43" fill="#b8b8b8" stroke="#7795c7" stroke-width="4.6"/>
<text x="2458.45" y="688.15" font-size="49" fill="#d05518" font-weight="bold" text-anchor="middle">24</text>
<rect x="2498.57" y="628.93" width="80.23" height="80.43" fill="#c8c8c8" stroke="#7795c7" stroke-width="4.6"/>
<text x="2538.68" y="688.15" font-size="49" fill="#d05518" font-weight="bold" text-anchor="middle">25</text>
<rect x="2338.1" y="709.37" width="80.23" height="80.43" fill="#acacac" stroke="#7795c7" stroke-width="4.6"/>
<text x="2378.22" y="768.58" font-size="49" fill="#d05518" font-weight="bold" text-anchor="middle">43</text>
<rect x="2418.33" y="709.37" width="80.23" height="80.43" fill="#000000" stroke="#7795c7" stroke-width="4.6"/>
<text x="2458.45" y="768.58" font-size="49" fill="#d05518" font-weight="bold" text-anchor="middle">44</text>
<rect x="2498.57" y="709.37" width="80.23" height="80.43" fill="#000000" stroke="#7795c7" stroke-width="4.6"/>
<text x="2538.68" y="768.58" font-size="49" fill="#d05518" font-weight="bold" text-anchor="middle">45</text>
<rect x="2338.25" y="543.85" width="241.9" height="247.6" fill="none" stroke="#3b80c2" stroke-width="10.5" stroke-linejoin="round"/>
<text x="2460" y="845.5" font-size="64.3" fill="#3b80c2" font-weight="bold" text-anchor="middle">y3(t=3)</text>
<text x="2460" y="924" font-size="64.3" fill="#3b80c2" font-weight="bold" text-anchor="middle">Valid</text>
<rect x="1357" y="1040" width="313.5" height="399" fill="none" stroke="#c0392b" stroke-width="3.1" rx="48"/>
<rect x="1391.5" y="1051.9" width="81.37" height="81.13" fill="#b8b8b8" stroke="#7795c7" stroke-width="4.6"/>
<text x="1432.18" y="1111.47" font-size="49" fill="#d05518" font-weight="bold" text-anchor="middle">1</text>
<rect x="1472.87" y="1051.9" width="81.37" height="81.13" fill="#101010" stroke="#7795c7" stroke-width="4.6"/>
<text x="1513.55" y="1111.47" font-size="49" fill="#d05518" font-weight="bold" text-anchor="middle">4</text>
<rect x="1554.23" y="1051.9" width="81.37" height="81.13" fill="#787878" stroke="#7795c7" stroke-width="4.6"/>
<text x="1594.92" y="1111.47" font-size="49" fill="#d05518" font-weight="bold" text-anchor="middle">7</text>
<rect x="1391.5" y="1133.03" width="81.37" height="81.13" fill="#686868" stroke="#7795c7" stroke-width="4.6"/>
<text x="1432.18" y="1192.6" font-size="49" fill="#d05518" font-weight="bold" text-anchor="middle">2</text>
<rect x="1472.87" y="1133.03" width="81.37" height="81.13" fill="#e8e8e8" stroke="#7795c7" stroke-width="4.6"/>
<text x="1513.55" y="1192.6" font-size="49" fill="#d05518" font-weight="bold" text-anchor="middle">5</text>
<rect x="1554.23" y="1133.03" width="81.37" height="81.13" fill="#909090" stroke="#7795c7" stroke-width="4.6"/>
<text x="1594.92" y="1192.6" font-size="49" fill="#d05518" font-weight="bold" text-anchor="middle">8</text>
<rect x="1391.5" y="1214.17" width="81.37" height="81.13" fill="#ececec" stroke="#7795c7" stroke-width="4.6"/>
<text x="1432.18" y="1273.73" font-size="49" fill="#d05518" font-weight="bold" text-anchor="middle">3</text>
<rect x="1472.87" y="1214.17" width="81.37" height="81.13" fill="#a8a8a8" stroke="#7795c7" stroke-width="4.6"/>
<text x="1513.55" y="1273.73" font-size="49" fill="#d05518" font-weight="bold" text-anchor="middle">6</text>
<rect x="1554.23" y="1214.17" width="81.37" height="81.13" fill="#acacac" stroke="#7795c7" stroke-width="4.6"/>
<text x="1594.92" y="1273.73" font-size="49" fill="#d05518" font-weight="bold" text-anchor="middle">9</text>
<text x="1520.7" y="1346" font-size="65.3" fill="#e8381b" font-weight="bold" text-anchor="middle">t=1</text>
<text x="1524" y="1423.6" font-size="65.3" fill="#e8381b" font-weight="bold" text-anchor="middle">Valid</text>
<rect x="1844.7" y="1040.8" width="314" height="397.2" fill="none" stroke="#c0392b" stroke-width="3.1" rx="48"/>
<rect x="1879.3" y="1052.3" width="81.13" height="80.53" fill="#101010" stroke="#7795c7" stroke-width="4.6"/>
<text x="1919.87" y="1111.57" font-size="49" fill="#d05518" font-weight="bold" text-anchor="middle">4</text>
<rect x="1960.43" y="1052.3" width="81.13" height="80.53" fill="#787878" stroke="#7795c7" stroke-width="4.6"/>
<text x="2001" y="1111.57" font-size="49" fill="#d05518" font-weight="bold" text-anchor="middle">7</text>
<rect x="2041.57" y="1052.3" width="81.13" height="80.53" fill="#cccccc" stroke="#7795c7" stroke-width="4.6"/>
<text x="2082.13" y="1111.57" font-size="49" fill="#d05518" font-weight="bold" text-anchor="middle">10</text>
<rect x="1879.3" y="1132.83" width="81.13" height="80.53" fill="#e8e8e8" stroke="#7795c7" stroke-width="4.6"/>
<text x="1919.87" y="1192.1" font-size="49" fill="#d05518" font-weight="bold" text-anchor="middle">5</text>
<rect x="1960.43" y="1132.83" width="81.13" height="80.53" fill="#909090" stroke="#7795c7" stroke-width="4.6"/>
<text x="2001" y="1192.1" font-size="49" fill="#d05518" font-weight="bold" text-anchor="middle">8</text>
<rect x="2041.57" y="1132.83" width="81.13" height="80.53" fill="#b8b8b8" stroke="#7795c7" stroke-width="4.6"/>
<text x="2082.13" y="1192.1" font-size="49" fill="#d05518" font-weight="bold" text-anchor="middle">11</text>
<rect x="1879.3" y="1213.37" width="81.13" height="80.53" fill="#a8a8a8" stroke="#7795c7" stroke-width="4.6"/>
<text x="1919.87" y="1272.63" font-size="49" fill="#d05518" font-weight="bold" text-anchor="middle">6</text>
<rect x="1960.43" y="1213.37" width="81.13" height="80.53" fill="#acacac" stroke="#7795c7" stroke-width="4.6"/>
<text x="2001" y="1272.63" font-size="49" fill="#d05518" font-weight="bold" text-anchor="middle">9</text>
<rect x="2041.57" y="1213.37" width="81.13" height="80.53" fill="#000000" stroke="#7795c7" stroke-width="4.6"/>
<text x="2082.13" y="1272.63" font-size="49" fill="#d05518" font-weight="bold" text-anchor="middle">12</text>
<text x="2011" y="1345.6" font-size="65.3" fill="#f2a922" font-weight="bold" text-anchor="middle">t=4</text>
<text x="2011" y="1424" font-size="65.3" fill="#f2a922" font-weight="bold" text-anchor="middle">Valid</text>
<rect x="2311" y="1043" width="313.2" height="397.3" fill="none" stroke="#c0392b" stroke-width="3.1" rx="48"/>
<rect x="2345.7" y="1057" width="80.83" height="80.33" fill="#787878" stroke="#7795c7" stroke-width="4.6"/>
<text x="2386.12" y="1116.17" font-size="49" fill="#d05518" font-weight="bold" text-anchor="middle">7</text>
<rect x="2426.53" y="1057" width="80.83" height="80.33" fill="#cccccc" stroke="#7795c7" stroke-width="4.6"/>
<text x="2466.95" y="1116.17" font-size="49" fill="#d05518" font-weight="bold" text-anchor="middle">10</text>
<rect x="2507.37" y="1057" width="80.83" height="80.33" fill="#2e2e2e" stroke="#7795c7" stroke-width="4.6"/>
<text x="2547.78" y="1116.17" font-size="49" fill="#d05518" font-weight="bold" text-anchor="middle">13</text>
<rect x="2345.7" y="1137.33" width="80.83" height="80.33" fill="#909090" stroke="#7795c7" stroke-width="4.6"/>
<text x="2386.12" y="1196.5" font-size="49" fill="#d05518" font-weight="bold" text-anchor="middle">8</text>
<rect x="2426.53" y="1137.33" width="80.83" height="80.33" fill="#b8b8b8" stroke="#7795c7" stroke-width="4.6"/>
<text x="2466.95" y="1196.5" font-size="49" fill="#d05518" font-weight="bold" text-anchor="middle">11</text>
<rect x="2507.37" y="1137.33" width="80.83" height="80.33" fill="#c8c8c8" stroke="#7795c7" stroke-width="4.6"/>
<text x="2547.78" y="1196.5" font-size="49" fill="#d05518" font-weight="bold" text-anchor="middle">14</text>
<rect x="2345.7" y="1217.67" width="80.83" height="80.33" fill="#acacac" stroke="#7795c7" stroke-width="4.6"/>
<text x="2386.12" y="1276.83" font-size="49" fill="#d05518" font-weight="bold" text-anchor="middle">9</text>
<rect x="2426.53" y="1217.67" width="80.83" height="80.33" fill="#000000" stroke="#7795c7" stroke-width="4.6"/>
<text x="2466.95" y="1276.83" font-size="49" fill="#d05518" font-weight="bold" text-anchor="middle">12</text>
<rect x="2507.37" y="1217.67" width="80.83" height="80.33" fill="#000000" stroke="#7795c7" stroke-width="4.6"/>
<text x="2547.78" y="1276.83" font-size="49" fill="#d05518" font-weight="bold" text-anchor="middle">15</text>
<text x="2476" y="1350" font-size="65.3" fill="#3b80c2" font-weight="bold" text-anchor="middle">t=7</text>
<text x="2478" y="1427.8" font-size="65.3" fill="#3b80c2" font-weight="bold" text-anchor="middle">Valid</text>
<rect x="1330.7" y="1476.8" width="385.6" height="398.5" fill="none" stroke="#2aa043" stroke-width="3.5" rx="58"/>
<rect x="1433.17" y="1489.3" width="80.47" height="80.47" fill="#101010" stroke="#7795c7" stroke-width="4.6"/>
<text x="1473.4" y="1548.53" font-size="49" fill="#d05518" font-weight="bold" text-anchor="middle">4</text>
<rect x="1513.63" y="1489.3" width="80.47" height="80.47" fill="#787878" stroke="#7795c7" stroke-width="4.6"/>
<text x="1553.87" y="1548.53" font-size="49" fill="#d05518" font-weight="bold" text-anchor="middle">7</text>
<rect x="1594.1" y="1489.3" width="80.47" height="80.47" fill="#cccccc" stroke="#7795c7" stroke-width="4.6"/>
<text x="1634.33" y="1548.53" font-size="49" fill="#d05518" font-weight="bold" text-anchor="middle">10</text>
<rect x="1352.7" y="1569.77" width="80.47" height="80.47" fill="#686868" stroke="#7795c7" stroke-width="4.6"/>
<text x="1392.93" y="1629" font-size="49" fill="#d05518" font-weight="bold" text-anchor="middle">2</text>
<rect x="1433.17" y="1569.77" width="80.47" height="80.47" fill="#e8e8e8" stroke="#7795c7" stroke-width="4.6"/>
<text x="1473.4" y="1629" font-size="49" fill="#d05518" font-weight="bold" text-anchor="middle">5</text>
<rect x="1513.63" y="1569.77" width="80.47" height="80.47" fill="#909090" stroke="#7795c7" stroke-width="4.6"/>
<text x="1553.87" y="1629" font-size="49" fill="#d05518" font-weight="bold" text-anchor="middle">8</text>
<rect x="1352.7" y="1650.23" width="80.47" height="80.47" fill="#ececec" stroke="#7795c7" stroke-width="4.6"/>
<text x="1392.93" y="1709.47" font-size="49" fill="#d05518" font-weight="bold" text-anchor="middle">3</text>
<rect x="1433.17" y="1650.23" width="80.47" height="80.47" fill="#a8a8a8" stroke="#7795c7" stroke-width="4.6"/>
<text x="1473.4" y="1709.47" font-size="49" fill="#d05518" font-weight="bold" text-anchor="middle">6</text>
<rect x="1513.63" y="1650.23" width="80.47" height="80.47" fill="#acacac" stroke="#7795c7" stroke-width="4.6"/>
<text x="1553.87" y="1709.47" font-size="49" fill="#d05518" font-weight="bold" text-anchor="middle">9</text>
<text x="1521.4" y="1783.4" font-size="65.3" fill="#1b6e2e" font-weight="bold" text-anchor="middle">t=2</text>
<text x="1522" y="1862.4" font-size="65.3" fill="#1b6e2e" font-weight="bold" text-anchor="middle">Invalid</text>
<rect x="1816" y="1477" width="385.2" height="397" fill="none" stroke="#2aa043" stroke-width="3.5" rx="58"/>
<rect x="1917.93" y="1487.6" width="81.13" height="80.67" fill="#787878" stroke="#7795c7" stroke-width="4.6"/>
<text x="1958.5" y="1546.93" font-size="49" fill="#d05518" font-weight="bold" text-anchor="middle">7</text>
<rect x="1999.07" y="1487.6" width="81.13" height="80.67" fill="#cccccc" stroke="#7795c7" stroke-width="4.6"/>
<text x="2039.63" y="1546.93" font-size="49" fill="#d05518" font-weight="bold" text-anchor="middle">10</text>
<rect x="2080.2" y="1487.6" width="81.13" height="80.67" fill="#2e2e2e" stroke="#7795c7" stroke-width="4.6"/>
<text x="2120.77" y="1546.93" font-size="49" fill="#d05518" font-weight="bold" text-anchor="middle">13</text>
<rect x="1836.8" y="1568.27" width="81.13" height="80.67" fill="#e8e8e8" stroke="#7795c7" stroke-width="4.6"/>
<text x="1877.37" y="1627.6" font-size="49" fill="#d05518" font-weight="bold" text-anchor="middle">5</text>
<rect x="1917.93" y="1568.27" width="81.13" height="80.67" fill="#909090" stroke="#7795c7" stroke-width="4.6"/>
<text x="1958.5" y="1627.6" font-size="49" fill="#d05518" font-weight="bold" text-anchor="middle">8</text>
<rect x="1999.07" y="1568.27" width="81.13" height="80.67" fill="#b8b8b8" stroke="#7795c7" stroke-width="4.6"/>
<text x="2039.63" y="1627.6" font-size="49" fill="#d05518" font-weight="bold" text-anchor="middle">11</text>
<rect x="1836.8" y="1648.93" width="81.13" height="80.67" fill="#a8a8a8" stroke="#7795c7" stroke-width="4.6"/>
<text x="1877.37" y="1708.27" font-size="49" fill="#d05518" font-weight="bold" text-anchor="middle">6</text>
<rect x="1917.93" y="1648.93" width="81.13" height="80.67" fill="#acacac" stroke="#7795c7" stroke-width="4.6"/>
<text x="1958.5" y="1708.27" font-size="49" fill="#d05518" font-weight="bold" text-anchor="middle">9</text>
<rect x="1999.07" y="1648.93" width="81.13" height="80.67" fill="#000000" stroke="#7795c7" stroke-width="4.6"/>
<text x="2039.63" y="1708.27" font-size="49" fill="#d05518" font-weight="bold" text-anchor="middle">12</text>
<text x="2007.7" y="1781.7" font-size="65.3" fill="#1b6e2e" font-weight="bold" text-anchor="middle">t=5</text>
<text x="2007.7" y="1860.2" font-size="65.3" fill="#1b6e2e" font-weight="bold" text-anchor="middle">Invalid</text>
<rect x="2285.7" y="1477" width="384.2" height="397" fill="none" stroke="#2aa043" stroke-width="3.5" rx="58"/>
<rect x="2386.63" y="1487.6" width="81.13" height="80.67" fill="#cccccc" stroke="#7795c7" stroke-width="4.6"/>
<text x="2427.2" y="1546.93" font-size="49" fill="#d05518" font-weight="bold" text-anchor="middle">10</text>
<rect x="2467.77" y="1487.6" width="81.13" height="80.67" fill="#2e2e2e" stroke="#7795c7" stroke-width="4.6"/>
<text x="2508.33" y="1546.93" font-size="49" fill="#d05518" font-weight="bold" text-anchor="middle">13</text>
<rect x="2548.9" y="1487.6" width="81.13" height="80.67" fill="#686868" stroke="#7795c7" stroke-width="4.6"/>
<text x="2589.47" y="1546.93" font-size="49" fill="#d05518" font-weight="bold" text-anchor="middle">16</text>
<rect x="2305.5" y="1568.27" width="81.13" height="80.67" fill="#909090" stroke="#7795c7" stroke-width="4.6"/>
<text x="2346.07" y="1627.6" font-size="49" fill="#d05518" font-weight="bold" text-anchor="middle">8</text>
<rect x="2386.63" y="1568.27" width="81.13" height="80.67" fill="#b8b8b8" stroke="#7795c7" stroke-width="4.6"/>
<text x="2427.2" y="1627.6" font-size="49" fill="#d05518" font-weight="bold" text-anchor="middle">11</text>
<rect x="2467.77" y="1568.27" width="81.13" height="80.67" fill="#c8c8c8" stroke="#7795c7" stroke-width="4.6"/>
<text x="2508.33" y="1627.6" font-size="49" fill="#d05518" font-weight="bold" text-anchor="middle">14</text>
<rect x="2305.5" y="1648.93" width="81.13" height="80.67" fill="#acacac" stroke="#7795c7" stroke-width="4.6"/>
<text x="2346.07" y="1708.27" font-size="49" fill="#d05518" font-weight="bold" text-anchor="middle">9</text>
<rect x="2386.63" y="1648.93" width="81.13" height="80.67" fill="#000000" stroke="#7795c7" stroke-width="4.6"/>
<text x="2427.2" y="1708.27" font-size="49" fill="#d05518" font-weight="bold" text-anchor="middle">12</text>
<rect x="2467.77" y="1648.93" width="81.13" height="80.67" fill="#000000" stroke="#7795c7" stroke-width="4.6"/>
<text x="2508.33" y="1708.27" font-size="49" fill="#d05518" font-weight="bold" text-anchor="middle">15</text>
<text x="2477.3" y="1780.8" font-size="65.3" fill="#1b6e2e" font-weight="bold" text-anchor="middle">t=8</text>
<text x="2477.3" y="1859.3" font-size="65.3" fill="#1b6e2e" font-weight="bold" text-anchor="middle">Invalid</text>
<rect x="1331.3" y="1910.9" width="386" height="397.8" fill="none" stroke="#2aa043" stroke-width="3.5" rx="58"/>
<rect x="1424.33" y="1924.4" width="81.13" height="80.8" fill="#101010" stroke="#7795c7" stroke-width="4.6"/>
<text x="1464.9" y="1983.8" font-size="49" fill="#d05518" font-weight="bold" text-anchor="middle">4</text>
<rect x="1505.47" y="1924.4" width="81.13" height="80.8" fill="#787878" stroke="#7795c7" stroke-width="4.6"/>
<text x="1546.03" y="1983.8" font-size="49" fill="#d05518" font-weight="bold" text-anchor="middle">7</text>
<rect x="1586.6" y="1924.4" width="81.13" height="80.8" fill="#cccccc" stroke="#7795c7" stroke-width="4.6"/>
<text x="1627.17" y="1983.8" font-size="49" fill="#d05518" font-weight="bold" text-anchor="middle">10</text>
<rect x="1424.33" y="2005.2" width="81.13" height="80.8" fill="#e8e8e8" stroke="#7795c7" stroke-width="4.6"/>
<text x="1464.9" y="2064.6" font-size="49" fill="#d05518" font-weight="bold" text-anchor="middle">5</text>
<rect x="1505.47" y="2005.2" width="81.13" height="80.8" fill="#909090" stroke="#7795c7" stroke-width="4.6"/>
<text x="1546.03" y="2064.6" font-size="49" fill="#d05518" font-weight="bold" text-anchor="middle">8</text>
<rect x="1586.6" y="2005.2" width="81.13" height="80.8" fill="#b8b8b8" stroke="#7795c7" stroke-width="4.6"/>
<text x="1627.17" y="2064.6" font-size="49" fill="#d05518" font-weight="bold" text-anchor="middle">11</text>
<rect x="1343.2" y="2086" width="81.13" height="80.8" fill="#ececec" stroke="#7795c7" stroke-width="4.6"/>
<text x="1383.77" y="2145.4" font-size="49" fill="#d05518" font-weight="bold" text-anchor="middle">3</text>
<rect x="1424.33" y="2086" width="81.13" height="80.8" fill="#a8a8a8" stroke="#7795c7" stroke-width="4.6"/>
<text x="1464.9" y="2145.4" font-size="49" fill="#d05518" font-weight="bold" text-anchor="middle">6</text>
<rect x="1505.47" y="2086" width="81.13" height="80.8" fill="#acacac" stroke="#7795c7" stroke-width="4.6"/>
<text x="1546.03" y="2145.4" font-size="49" fill="#d05518" font-weight="bold" text-anchor="middle">9</text>
<text x="1514" y="2215.7" font-size="65.3" fill="#1b6e2e" font-weight="bold" text-anchor="middle">t=3</text>
<text x="1514.6" y="2295.1" font-size="65.3" fill="#1b6e2e" font-weight="bold" text-anchor="middle">Invalid</text>
<rect x="1816" y="1914.8" width="385.2" height="397.6" fill="none" stroke="#2aa043" stroke-width="3.5" rx="58"/>
<rect x="1909.33" y="1926.8" width="80.83" height="80.67" fill="#787878" stroke="#7795c7" stroke-width="4.6"/>
<text x="1949.75" y="1986.13" font-size="49" fill="#d05518" font-weight="bold" text-anchor="middle">7</text>
<rect x="1990.17" y="1926.8" width="80.83" height="80.67" fill="#cccccc" stroke="#7795c7" stroke-width="4.6"/>
<text x="2030.58" y="1986.13" font-size="49" fill="#d05518" font-weight="bold" text-anchor="middle">10</text>
<rect x="2071" y="1926.8" width="80.83" height="80.67" fill="#2e2e2e" stroke="#7795c7" stroke-width="4.6"/>
<text x="2111.42" y="1986.13" font-size="49" fill="#d05518" font-weight="bold" text-anchor="middle">13</text>
<rect x="1909.33" y="2007.47" width="80.83" height="80.67" fill="#909090" stroke="#7795c7" stroke-width="4.6"/>
<text x="1949.75" y="2066.8" font-size="49" fill="#d05518" font-weight="bold" text-anchor="middle">8</text>
<rect x="1990.17" y="2007.47" width="80.83" height="80.67" fill="#b8b8b8" stroke="#7795c7" stroke-width="4.6"/>
<text x="2030.58" y="2066.8" font-size="49" fill="#d05518" font-weight="bold" text-anchor="middle">11</text>
<rect x="2071" y="2007.47" width="80.83" height="80.67" fill="#c8c8c8" stroke="#7795c7" stroke-width="4.6"/>
<text x="2111.42" y="2066.8" font-size="49" fill="#d05518" font-weight="bold" text-anchor="middle">14</text>
<rect x="1828.5" y="2088.13" width="80.83" height="80.67" fill="#a8a8a8" stroke="#7795c7" stroke-width="4.6"/>
<text x="1868.92" y="2147.47" font-size="49" fill="#d05518" font-weight="bold" text-anchor="middle">6</text>
<rect x="1909.33" y="2088.13" width="80.83" height="80.67" fill="#acacac" stroke="#7795c7" stroke-width="4.6"/>
<text x="1949.75" y="2147.47" font-size="49" fill="#d05518" font-weight="bold" text-anchor="middle">9</text>
<rect x="1990.17" y="2088.13" width="80.83" height="80.67" fill="#000000" stroke="#7795c7" stroke-width="4.6"/>
<text x="2030.58" y="2147.47" font-size="49" fill="#d05518" font-weight="bold" text-anchor="middle">12</text>
<text x="1999.4" y="2218.7" font-size="65.3" fill="#1b6e2e" font-weight="bold" text-anchor="middle">t=6</text>
<text x="1999.4" y="2297.2" font-size="65.3" fill="#1b6e2e" font-weight="bold" text-anchor="middle">Invalid</text>
<rect x="2282" y="1914.8" width="386" height="397.6" fill="none" stroke="#2aa043" stroke-width="3.5" rx="58"/>
<rect x="2374.5" y="1925.3" width="81" height="81.17" fill="#cccccc" stroke="#7795c7" stroke-width="4.6"/>
<text x="2415" y="1984.88" font-size="49" fill="#d05518" font-weight="bold" text-anchor="middle">10</text>
<rect x="2455.5" y="1925.3" width="81" height="81.17" fill="#2e2e2e" stroke="#7795c7" stroke-width="4.6"/>
<text x="2496" y="1984.88" font-size="49" fill="#d05518" font-weight="bold" text-anchor="middle">13</text>
<rect x="2536.5" y="1925.3" width="81" height="81.17" fill="#686868" stroke="#7795c7" stroke-width="4.6"/>
<text x="2577" y="1984.88" font-size="49" fill="#d05518" font-weight="bold" text-anchor="middle">16</text>
<rect x="2374.5" y="2006.47" width="81" height="81.17" fill="#b8b8b8" stroke="#7795c7" stroke-width="4.6"/>
<text x="2415" y="2066.05" font-size="49" fill="#d05518" font-weight="bold" text-anchor="middle">11</text>
<rect x="2455.5" y="2006.47" width="81" height="81.17" fill="#c8c8c8" stroke="#7795c7" stroke-width="4.6"/>
<text x="2496" y="2066.05" font-size="49" fill="#d05518" font-weight="bold" text-anchor="middle">14</text>
<rect x="2536.5" y="2006.47" width="81" height="81.17" fill="#404040" stroke="#7795c7" stroke-width="4.6"/>
<text x="2577" y="2066.05" font-size="49" fill="#d05518" font-weight="bold" text-anchor="middle">17</text>
<rect x="2293.5" y="2087.63" width="81" height="81.17" fill="#acacac" stroke="#7795c7" stroke-width="4.6"/>
<text x="2334" y="2147.22" font-size="49" fill="#d05518" font-weight="bold" text-anchor="middle">9</text>
<rect x="2374.5" y="2087.63" width="81" height="81.17" fill="#000000" stroke="#7795c7" stroke-width="4.6"/>
<text x="2415" y="2147.22" font-size="49" fill="#d05518" font-weight="bold" text-anchor="middle">12</text>
<rect x="2455.5" y="2087.63" width="81" height="81.17" fill="#000000" stroke="#7795c7" stroke-width="4.6"/>
<text x="2496" y="2147.22" font-size="49" fill="#d05518" font-weight="bold" text-anchor="middle">15</text>
<text x="2464.9" y="2216.4" font-size="65.3" fill="#1b6e2e" font-weight="bold" text-anchor="middle">t=9</text>
<text x="2465.8" y="2297.2" font-size="65.3" fill="#1b6e2e" font-weight="bold" text-anchor="middle">Invalid</text>
<line x1="1518" y1="1433.5" x2="1518" y2="1453" stroke="#1b6589" stroke-width="9"/>
<polygon points="1518,1484 1502,1451 1534,1451" fill="#1b6589"/>
<line x1="1525.5" y1="1875" x2="1525.5" y2="1893" stroke="#1b6589" stroke-width="9"/>
<polygon points="1525.5,1924 1509.5,1891 1541.5,1891" fill="#1b6589"/>
<line x1="2004" y1="1433" x2="2004" y2="1453" stroke="#1b6589" stroke-width="9"/>
<polygon points="2004,1484 1988,1451 2020,1451" fill="#1b6589"/>
<line x1="2013" y1="1874" x2="2013" y2="1893.5" stroke="#1b6589" stroke-width="9"/>
<polygon points="2013,1924.5 1997,1891.5 2029,1891.5" fill="#1b6589"/>
<polyline points="1717.3,2110.8 1761,2110.8 1761,1238.7 1815,1238.7" fill="none" stroke="#1b6589" stroke-width="7.8" stroke-linejoin="miter"/>
<polygon points="1844.8,1238.7 1813,1222.7 1813,1254.7" fill="#1b6589"/>
<polyline points="2201.2,2111.5 2229.8,2111.5 2229.8,1242 2302,1242" fill="none" stroke="#1b6589" stroke-width="7.8" stroke-linejoin="miter"/>
<polygon points="2331.8,1242 2300,1226 2300,1258" fill="#1b6589"/>
</svg>
</body>
</html>
